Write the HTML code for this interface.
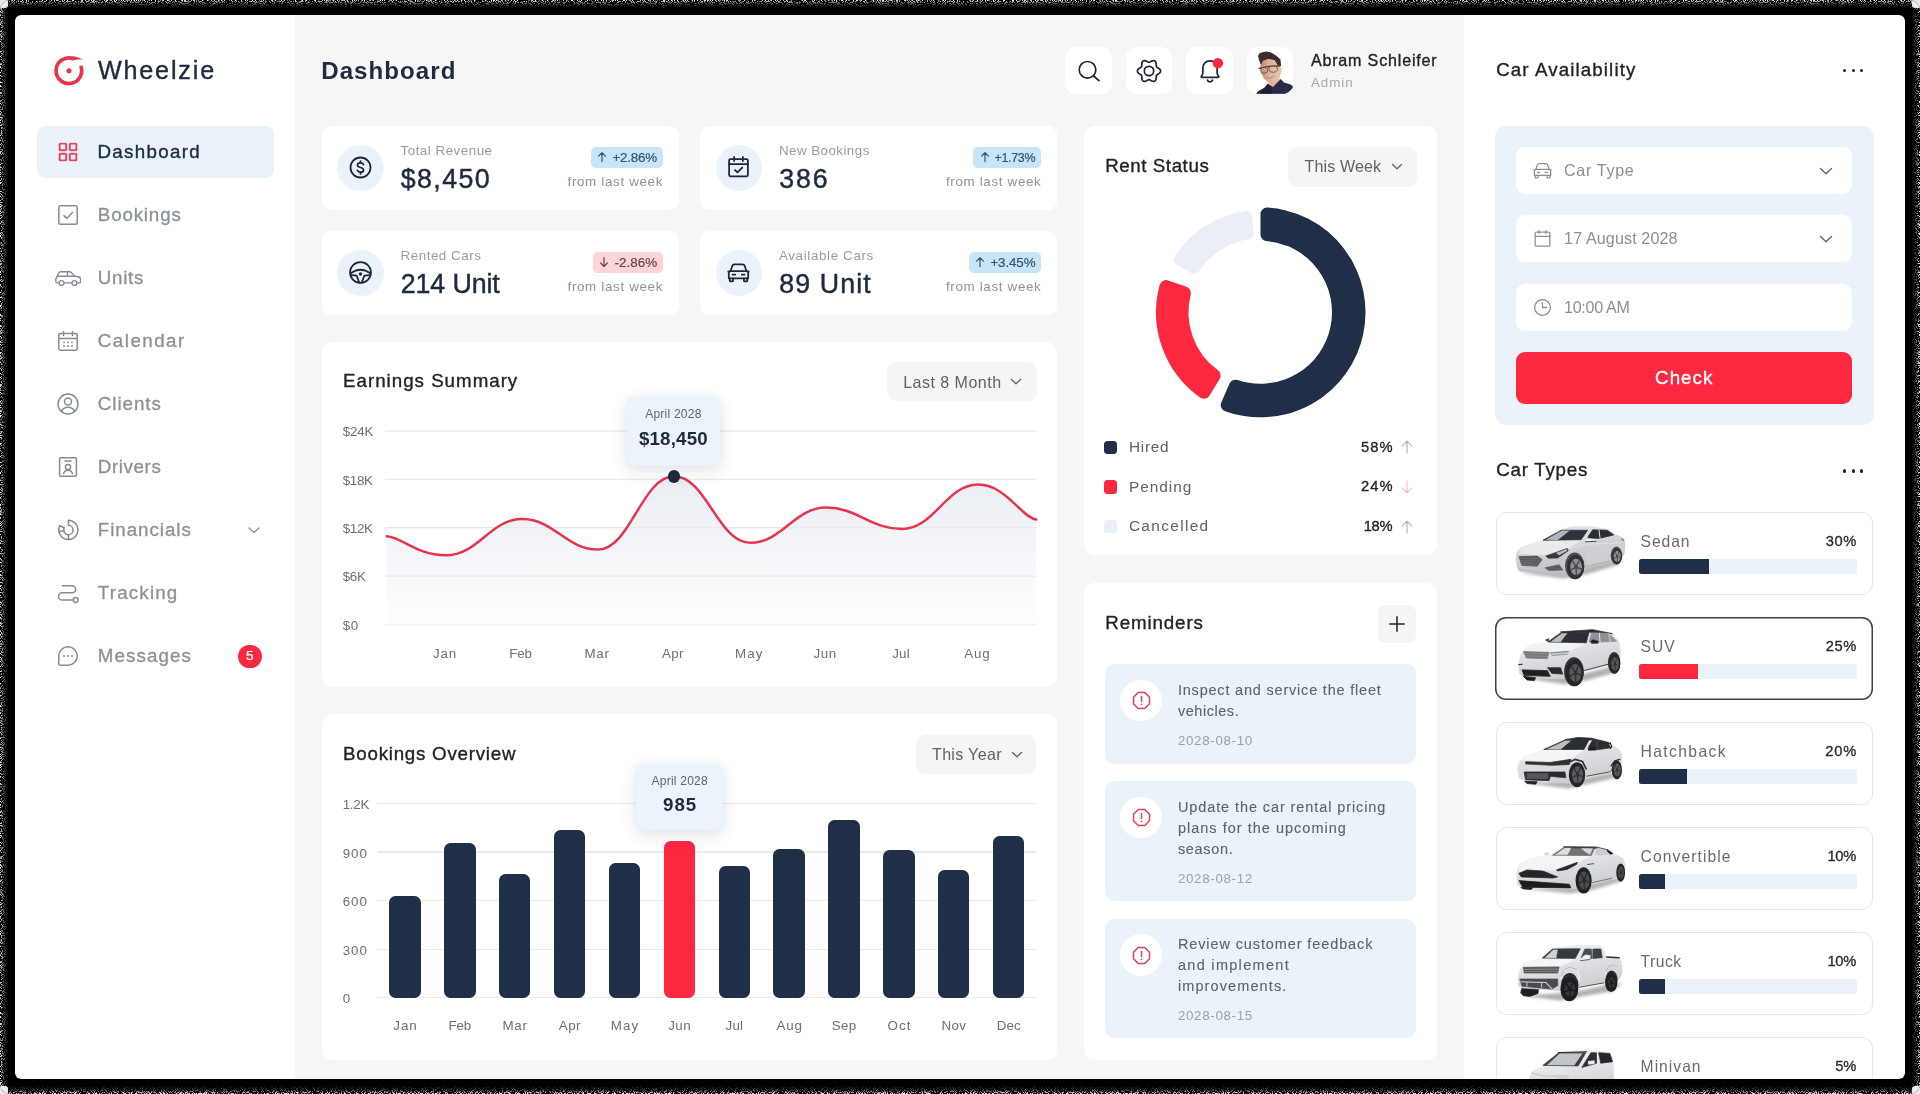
<!DOCTYPE html>
<html><head><meta charset="utf-8"><title>Wheelzie Dashboard</title>
<style>
html,body{margin:0;padding:0;}
body{width:1920px;height:1094px;overflow:hidden;background:#e9e9e9;font-family:"Liberation Sans",sans-serif;position:relative;}
#frame{position:absolute;left:0;top:0;width:1920px;height:1094px;overflow:hidden;background:#000;border-radius:10px;}
#c{position:absolute;left:0;top:0;width:1920px;height:1094px;clip-path:inset(15px 15px 15px 15px round 6px);will-change:transform;}
.b{position:absolute;display:block;}
.t{position:absolute;white-space:nowrap;display:block;}
</style></head><body>
<div id="frame">
<div id="c">
<div class="b" style="left:15.00px;top:15.00px;width:280.00px;height:1064.00px;background:#ffffff;border-radius:5px 0 0 5px;"></div>
<div class="b" style="left:295.00px;top:15.00px;width:1168.50px;height:1064.00px;background:#f6f6f6;"></div>
<div class="b" style="left:1463.50px;top:15.00px;width:441.50px;height:1064.00px;background:#ffffff;border-radius:0 5px 5px 0;"></div>
<svg class="b" style="left:52.00px;top:54.00px;" width="34" height="34" viewBox="0 0 34 34" fill="none"><path d="M28.72 11.9A12.8 12.8 0 1 1 20.8 4.53" stroke="#e8334c" stroke-width="3.600" stroke-linecap="butt"/>
<path d="M19.2 2.150c4.500 0 8.800 1.500 11.700 3.700c-3.500-.650-7.200-.500-10.400.900z" fill="#e8334c"/>
<circle cx="17.000" cy="16.700" r="2.550" fill="#e8334c"/></svg>
<span class="t" style="left:97.90px;top:58.28px;font-size:25.18px;line-height:25.18px;letter-spacing:1.819px;color:#1e2b3f;-webkit-text-stroke:0.4px #1e2b3f;">Wheelzie</span>
<div class="b" style="left:37.00px;top:126.00px;width:237.00px;height:51.50px;background:#ebf3fa;border-radius:8px;"></div>
<span class="t" style="left:97.50px;top:142.88px;font-size:18.74px;line-height:18.74px;letter-spacing:1.326px;color:#1e2b3f;-webkit-text-stroke:0.4px #1e2b3f;">Dashboard</span>
<span class="t" style="left:97.80px;top:205.88px;font-size:18.74px;line-height:18.74px;letter-spacing:0.842px;color:#8b9198;-webkit-text-stroke:0.3px #8b9198;">Bookings</span>
<span class="t" style="left:97.80px;top:268.88px;font-size:18.74px;line-height:18.74px;letter-spacing:0.700px;color:#8b9198;-webkit-text-stroke:0.3px #8b9198;">Units</span>
<span class="t" style="left:97.80px;top:331.88px;font-size:18.74px;line-height:18.74px;letter-spacing:1.491px;color:#8b9198;-webkit-text-stroke:0.3px #8b9198;">Calendar</span>
<span class="t" style="left:97.80px;top:394.88px;font-size:18.74px;line-height:18.74px;letter-spacing:0.952px;color:#8b9198;-webkit-text-stroke:0.3px #8b9198;">Clients</span>
<span class="t" style="left:97.80px;top:457.88px;font-size:18.74px;line-height:18.74px;letter-spacing:0.609px;color:#8b9198;-webkit-text-stroke:0.3px #8b9198;">Drivers</span>
<span class="t" style="left:97.80px;top:520.88px;font-size:18.74px;line-height:18.74px;letter-spacing:0.958px;color:#8b9198;-webkit-text-stroke:0.3px #8b9198;">Financials</span>
<span class="t" style="left:97.80px;top:583.88px;font-size:18.74px;line-height:18.74px;letter-spacing:1.190px;color:#8b9198;-webkit-text-stroke:0.3px #8b9198;">Tracking</span>
<span class="t" style="left:97.80px;top:646.88px;font-size:18.74px;line-height:18.74px;letter-spacing:1.083px;color:#8b9198;-webkit-text-stroke:0.3px #8b9198;">Messages</span>
<svg class="b" style="left:56.00px;top:140.40px;" width="24" height="24" viewBox="0 0 24 24" fill="none"><g stroke="#e8415a" stroke-width="1.9" stroke-linecap="round" stroke-linejoin="round"><rect x="3.6" y="3.6" width="6.6" height="6.6" rx="1"/><rect x="13.8" y="3.6" width="6.6" height="6.6" rx="1"/><rect x="3.6" y="13.8" width="6.6" height="6.6" rx="1"/><rect x="13.8" y="13.8" width="6.6" height="6.6" rx="1"/></g></svg>
<svg class="b" style="left:56.00px;top:203.40px;" width="24" height="24" viewBox="0 0 24 24" fill="none"><g stroke="#868c94" stroke-width="1.5" stroke-linecap="round" stroke-linejoin="round"><rect x="2.8" y="2.8" width="18.4" height="18.4" rx="1.5"/><path d="M8 12.6l2.8 2.8L16.4 9.4"/></g></svg>
<svg class="b" style="left:55.00px;top:271.20px;" width="26.4" height="15.2" viewBox="0 0 26.4 15.2" fill="none"><g stroke="#868c94" stroke-width="1.400" stroke-linecap="round" stroke-linejoin="round"><path d="M3.900 11.900H2.300c-.8 0-1.500-.7-1.500-1.500V8.600c0-.5.100-1 .4-1.500l2.600-5.200c.3-.7 1-1.200 1.800-1.200h9c.6 0 1.200.300 1.600.700l3.700 3.800 3.300.5c1.400.2 2.400 1.400 2.400 2.800v1.900c0 .8-.7 1.500-1.500 1.500H22M9.100 11.900h7.700"/><path d="M2.400 5.200h17.500M12.400 .900v4.300"/><circle cx="6.500" cy="12.100" r="2.450"/><circle cx="19.400" cy="12.100" r="2.450"/></g></svg>
<svg class="b" style="left:56.00px;top:329.40px;" width="24" height="24" viewBox="0 0 24 24" fill="none"><g stroke="#868c94" stroke-width="1.5" stroke-linecap="round" stroke-linejoin="round"><rect x="2.8" y="4.6" width="18.4" height="16.6" rx="1.5"/><path d="M2.8 9.6h18.400M7.500 2.600v3.800M16.500 2.600v3.800"/><path d="M8 13.400h.01M12 13.400h.01M16 13.400h.01M8 17h.01M12 17h.01M16 17h.01" stroke-width="1.9"/></g></svg>
<svg class="b" style="left:56.00px;top:392.40px;" width="24" height="24" viewBox="0 0 24 24" fill="none"><g stroke="#868c94" stroke-width="1.5" stroke-linecap="round" stroke-linejoin="round"><circle cx="12" cy="12" r="10"/><circle cx="12" cy="9.600" r="3.500"/><path d="M5.400 19.400c1.200-2.700 3.600-4.100 6.600-4.100s5.400 1.400 6.600 4.100"/></g></svg>
<svg class="b" style="left:56.00px;top:455.40px;" width="24" height="24" viewBox="0 0 24 24" fill="none"><g stroke="#868c94" stroke-width="1.5" stroke-linecap="round" stroke-linejoin="round"><rect x="3.600" y="2.800" width="16.800" height="18.400" rx="1.200"/><path d="M9 6h6"/><circle cx="12" cy="12" r="2.600"/><path d="M7.600 18.600c.6-2.200 2.200-3.400 4.400-3.400s3.800 1.200 4.400 3.400"/></g></svg>
<svg class="b" style="left:56.00px;top:518.40px;" width="24" height="24" viewBox="0 0 24 24" fill="none"><g stroke="#868c94" stroke-width="1.5" stroke-linecap="round" stroke-linejoin="round"><path d="M12.400 2.300A9.600 9.600 0 0 1 12.400 21.500V16.700A4.700 4.700 0 0 0 12.400 7.300Z"/><path d="M12.400 21.500A9.600 9.600 0 0 1 3.700 7.800"/><path d="M12.400 16.700A4.700 4.700 0 0 1 8.300 9.700"/><path d="M3.700 7.800L8.300 9.700M2.900 13.600l4.900-.9"/></g></svg>
<svg class="b" style="left:56.00px;top:581.40px;" width="24" height="24" viewBox="0 0 24 24" fill="none"><g stroke="#868c94" stroke-width="1.5" stroke-linecap="round" stroke-linejoin="round"><path d="M17.200 19H6.200a3.600 3.600 0 0 1 0-7.200h10a3.500 3.500 0 0 0 0-7H6.300"/><circle cx="19.700" cy="19" r="2.400"/></g></svg>
<svg class="b" style="left:56.00px;top:644.40px;" width="24" height="24" viewBox="0 0 24 24" fill="none"><g stroke="#868c94" stroke-width="1.5" stroke-linecap="round" stroke-linejoin="round"><path d="M12 2.800a9.200 9.200 0 1 1 0 18.400H4.200a1.400 1.400 0 0 1-1.400-1.400V12A9.200 9.200 0 0 1 12 2.800z"/><path d="M8 12h.01M12 12h.01M16 12h.01" stroke-width="2"/></g></svg>
<svg class="b" style="left:247.00px;top:526.00px;" width="14" height="9" viewBox="0 0 14 9" fill="none"><path d="M2 2l5 4.600 5-4.600" stroke="#8b9198" stroke-width="1.400" stroke-linecap="round" stroke-linejoin="round"/></svg>
<div class="b" style="left:238.00px;top:644.50px;width:23.50px;height:23.50px;background:#fb2840;border-radius:12px;"></div>
<span class="t" style="left:246.02px;top:649.39px;font-size:13.60px;line-height:13.60px;letter-spacing:0.000px;color:#fff;-webkit-text-stroke:0.25px #fff;">5</span>
<span class="t" style="left:321.20px;top:58.70px;font-size:24.10px;line-height:24.10px;letter-spacing:1.042px;color:#1e2b3f;font-weight:700;">Dashboard</span>
<div class="b" style="left:1065.30px;top:47.30px;width:46.60px;height:46.80px;background:#ffffff;border-radius:11px;"></div>
<div class="b" style="left:1125.60px;top:47.30px;width:46.60px;height:46.80px;background:#ffffff;border-radius:11px;"></div>
<div class="b" style="left:1186.00px;top:47.30px;width:46.60px;height:46.80px;background:#ffffff;border-radius:11px;"></div>
<div class="b" style="left:1246.50px;top:47.30px;width:46.60px;height:46.80px;background:#ffffff;border-radius:11px;"></div>
<svg class="b" style="left:1076.60px;top:58.60px;" width="24" height="24" viewBox="0 0 24 24" fill="none"><g stroke="#1d2430" stroke-width="1.700" stroke-linecap="round"><circle cx="10.500" cy="10.800" r="8.300"/><path d="M16.600 17l5.400 4.700"/></g></svg>
<svg class="b" style="left:1136.20px;top:57.70px;" width="26" height="26" viewBox="0 0 26 26" fill="none"><g stroke="#1d2430" stroke-width="1.700" stroke-linejoin="round"><path d="M13.00 4.30 L13.34 4.27 L13.69 4.17 L14.06 4.02 L14.45 3.82 L14.87 3.59 L15.32 3.35 L15.79 3.12 L16.27 2.92 L16.78 2.77 L17.28 2.68 L17.77 2.66 L18.23 2.73 L18.67 2.88 L19.05 3.12 L19.38 3.45 L19.66 3.84 L19.87 4.29 L20.02 4.78 L20.12 5.30 L20.18 5.82 L20.20 6.34 L20.22 6.84 L20.23 7.30 L20.26 7.72 L20.33 8.11 L20.43 8.44 L20.59 8.75 L20.81 9.02 L21.09 9.27 L21.43 9.51 L21.81 9.75 L22.23 10.00 L22.66 10.28 L23.09 10.58 L23.50 10.91 L23.87 11.28 L24.17 11.68 L24.41 12.10 L24.55 12.55 L24.60 13.00 L24.55 13.45 L24.41 13.90 L24.17 14.32 L23.87 14.72 L23.50 15.09 L23.09 15.42 L22.66 15.72 L22.23 16.00 L21.81 16.25 L21.43 16.49 L21.09 16.73 L20.81 16.98 L20.59 17.25 L20.43 17.56 L20.33 17.89 L20.26 18.28 L20.23 18.70 L20.22 19.16 L20.20 19.66 L20.18 20.18 L20.12 20.70 L20.02 21.22 L19.87 21.71 L19.66 22.16 L19.38 22.55 L19.05 22.88 L18.67 23.12 L18.23 23.27 L17.77 23.34 L17.28 23.32 L16.78 23.23 L16.27 23.08 L15.79 22.88 L15.32 22.65 L14.87 22.41 L14.45 22.18 L14.06 21.98 L13.69 21.83 L13.34 21.73 L13.00 21.70 L12.66 21.73 L12.31 21.83 L11.94 21.98 L11.55 22.18 L11.13 22.41 L10.68 22.65 L10.21 22.88 L9.73 23.08 L9.22 23.23 L8.72 23.32 L8.23 23.34 L7.77 23.27 L7.33 23.12 L6.95 22.88 L6.62 22.55 L6.34 22.16 L6.13 21.71 L5.98 21.22 L5.88 20.70 L5.82 20.18 L5.80 19.66 L5.78 19.16 L5.77 18.70 L5.74 18.28 L5.67 17.89 L5.57 17.56 L5.41 17.25 L5.19 16.98 L4.91 16.73 L4.57 16.49 L4.19 16.25 L3.77 16.00 L3.34 15.72 L2.91 15.42 L2.50 15.09 L2.13 14.72 L1.83 14.32 L1.59 13.90 L1.45 13.45 L1.40 13.00 L1.45 12.55 L1.59 12.10 L1.83 11.68 L2.13 11.28 L2.50 10.91 L2.91 10.58 L3.34 10.28 L3.77 10.00 L4.19 9.75 L4.57 9.51 L4.91 9.27 L5.19 9.02 L5.41 8.75 L5.57 8.44 L5.67 8.11 L5.74 7.72 L5.77 7.30 L5.78 6.84 L5.80 6.34 L5.82 5.82 L5.88 5.30 L5.98 4.78 L6.13 4.29 L6.34 3.84 L6.62 3.45 L6.95 3.12 L7.33 2.88 L7.77 2.73 L8.23 2.66 L8.72 2.68 L9.22 2.77 L9.73 2.92 L10.21 3.12 L10.68 3.35 L11.13 3.59 L11.55 3.82 L11.94 4.02 L12.31 4.17 L12.66 4.27Z"/><circle cx="13" cy="13" r="4.700"/></g></svg>
<svg class="b" style="left:1196.60px;top:56.60px;overflow:visible;" width="26" height="28.2" viewBox="0 0 24 26" fill="none"><g stroke="#1d2430" stroke-width="1.600" stroke-linecap="round" stroke-linejoin="round"><path d="M12 3.500c-4 0-6.600 3-6.600 6.800v4.200c0 1.200-.5 2.300-1.300 3.100-.5.500-.2 1.300.5 1.300h14.800c.7 0 1-.8.500-1.300-.8-.8-1.300-1.900-1.300-3.100v-4.200c0-3.800-2.600-6.800-6.600-6.800z"/><path d="M9.700 21.300c.4 1.100 1.200 1.700 2.300 1.700s1.900-.6 2.300-1.700"/></g><circle cx="19.300" cy="5.700" r="4.800" fill="#fb2840"/></svg>
<svg class="b" style="left:1246.50px;top:47.30px;" width="46.6" height="46.8" viewBox="0 0 46.6 46.8" fill="none"><defs><clipPath id="avc"><rect width="46.6" height="46.8" rx="11"/></clipPath><linearGradient id="fg" x1="0" y1="0" x2="1" y2="0"><stop offset="0" stop-color="#b98672"/><stop offset=".35" stop-color="#dcae97"/><stop offset="1" stop-color="#e9c4ae"/></linearGradient></defs><g clip-path="url(#avc)"><path d="M23.8 35.5 L33.4 32.3 L34.4 34.4 L26.0 40.8 L20.7 37.6Z" fill="#dcb39c" stroke="#dcb39c" stroke-width="1.2" stroke-linejoin="round" /><path d="M9.5 47.2 L11.7 44.5 L17.5 41.3 L20.7 37.6 L26.0 40.8 L33.7 32.9 L36.6 36.0 L43.5 38.2 L46.6 40.8 L45.0 44.5 L40.3 47.2Z" fill="#272b45" stroke="#272b45" stroke-width="1.2" stroke-linejoin="round" /><path d="M17.5 41.3L20.7 37.6 26 40.8 24 47.2H12z" fill="#1d2033"/><path d="M14.0 16.4 L15.4 13.2 L21.7 11.1 L28.1 12.7 L31.3 18.0 L33.7 20.7 L33.9 24.9 L32.3 29.1 L31.3 33.4 L26.0 36.0 L21.7 35.0 L17.5 31.3 L15.1 26.5 L14.3 21.7Z" fill="url(#fg)" stroke="url(#fg)" stroke-width="1.2" stroke-linejoin="round" /><path d="M11.7 9.0 L13.0 6.6 L19.1 5.0 L23.8 6.1 L28.6 9.0 L32.9 12.7 L33.4 18.5 L31.3 18.0 L28.1 12.7 L21.7 11.1 L15.4 13.2 L14.0 16.4 L12.5 12.7Z" fill="#3b2b29" stroke="#3b2b29" stroke-width="1.2" stroke-linejoin="round" /><path d="M12.000 21.400L22.200 19.400 32.300 19.000" stroke="#4d3a2f" stroke-width="1.300" fill="none" stroke-linecap="round"/><ellipse cx="17.200" cy="23.200" rx="3.700" ry="3" stroke="#6a4e40" stroke-width=".8" fill="#caa08c" fill-opacity=".5" transform="rotate(-8 17.2 23.2)"/><ellipse cx="26.200" cy="22.000" rx="4.300" ry="3.300" stroke="#6a4e40" stroke-width=".8" fill="#e3b9a3" fill-opacity=".4" transform="rotate(-8 26.2 22)"/><path d="M19.500 30.500c2.400 1.300 5.200.900 7.600-1" stroke="#b47a68" stroke-width=".9" fill="none" stroke-linecap="round"/></g></svg>
<span class="t" style="left:1310.90px;top:51.90px;font-size:16.07px;line-height:16.07px;letter-spacing:0.823px;color:#232323;-webkit-text-stroke:0.35px #232323;">Abram Schleifer</span>
<span class="t" style="left:1310.90px;top:76.47px;font-size:13.39px;line-height:13.39px;letter-spacing:0.963px;color:#a6a8ab;">Admin</span>
<div class="b" style="left:321.60px;top:126.30px;width:357.00px;height:83.30px;background:#ffffff;border-radius:9px;"></div>
<div class="b" style="left:337.10px;top:144.80px;width:46.50px;height:46.50px;background:#ebf3fa;border-radius:24px;"></div>
<svg class="b" style="left:347.90px;top:155.00px;" width="25" height="25" viewBox="0 0 24 24" fill="none"><g stroke="#1d2736" stroke-width="1.700" stroke-linecap="round" stroke-linejoin="round"><circle cx="12" cy="12" r="9.600"/><path d="M14.900 9.200c-.4-1.100-1.500-1.700-2.900-1.700-1.700 0-2.900.9-2.900 2.200 0 1.300 1 1.900 2.900 2.300s2.900 1 2.900 2.300c0 1.300-1.200 2.200-2.900 2.200-1.400 0-2.500-.6-2.900-1.700M12 5.800v1.700M12 16.500v1.700"/></g></svg>
<span class="t" style="left:400.50px;top:143.57px;font-size:13.39px;line-height:13.39px;letter-spacing:0.501px;color:#979ba1;">Total Revenue</span>
<span class="t" style="left:400.80px;top:166.03px;font-size:26.78px;line-height:26.78px;letter-spacing:1.381px;color:#1e2b3f;-webkit-text-stroke:0.45px #1e2b3f;">$8,450</span>
<div class="b" style="left:590.60px;top:146.60px;width:72.00px;height:21.20px;background:#c9e4f6;border-radius:5px;"></div>
<svg class="b" style="left:597.40px;top:151.30px;" width="10" height="12.2" viewBox="0 0 10 12.2" fill="none"><g stroke="#2f5673" stroke-width="1.200" stroke-linecap="round" stroke-linejoin="round"><path d="M5 10.600V1.800M1.600 5.200L5 1.700l3.400 3.500"/></g></svg>
<span class="t" style="left:612.50px;top:151.17px;font-size:13.39px;line-height:13.39px;letter-spacing:-0.216px;color:#2f5673;-webkit-text-stroke:0.2px #2f5673;">+2.86%</span>
<span class="t" style="left:567.50px;top:175.27px;font-size:13.39px;line-height:13.39px;letter-spacing:0.669px;color:#8e9399;">from last week</span>
<div class="b" style="left:700.00px;top:126.30px;width:357.00px;height:83.30px;background:#ffffff;border-radius:9px;"></div>
<div class="b" style="left:715.50px;top:144.80px;width:46.50px;height:46.50px;background:#ebf3fa;border-radius:24px;"></div>
<svg class="b" style="left:726.30px;top:154.40px;" width="25" height="25" viewBox="0 0 24 24" fill="none"><g stroke="#1d2736" stroke-width="1.700" stroke-linecap="round" stroke-linejoin="round"><rect x="3" y="5" width="18" height="16.400" rx="1.200"/><path d="M3 9.800h18M7.800 2.800v4M16.200 2.800v4M8.600 15.400l2.400 2.300 4.600-4.700"/></g></svg>
<span class="t" style="left:778.90px;top:143.57px;font-size:13.39px;line-height:13.39px;letter-spacing:0.448px;color:#979ba1;">New Bookings</span>
<span class="t" style="left:779.20px;top:166.03px;font-size:26.78px;line-height:26.78px;letter-spacing:1.913px;color:#1e2b3f;-webkit-text-stroke:0.45px #1e2b3f;">386</span>
<div class="b" style="left:973.00px;top:146.60px;width:68.00px;height:21.20px;background:#c9e4f6;border-radius:5px;"></div>
<svg class="b" style="left:979.80px;top:151.30px;" width="10" height="12.2" viewBox="0 0 10 12.2" fill="none"><g stroke="#2f5673" stroke-width="1.200" stroke-linecap="round" stroke-linejoin="round"><path d="M5 10.600V1.800M1.600 5.200L5 1.700l3.400 3.500"/></g></svg>
<span class="t" style="left:994.53px;top:151.96px;font-size:12.45px;line-height:12.45px;letter-spacing:-0.300px;color:#2f5673;-webkit-text-stroke:0.2px #2f5673;">+1.73%</span>
<span class="t" style="left:945.90px;top:175.27px;font-size:13.39px;line-height:13.39px;letter-spacing:0.669px;color:#8e9399;">from last week</span>
<div class="b" style="left:321.60px;top:231.40px;width:357.00px;height:83.30px;background:#ffffff;border-radius:9px;"></div>
<div class="b" style="left:337.10px;top:249.90px;width:46.50px;height:46.50px;background:#ebf3fa;border-radius:24px;"></div>
<svg class="b" style="left:347.90px;top:260.10px;" width="25" height="25" viewBox="0 0 24 24" fill="none"><g stroke="#1d2736" stroke-width="1.700" stroke-linecap="round" stroke-linejoin="round"><circle cx="12" cy="12" r="10"/><path d="M2.500 12.700Q12 6 21.500 12.700"/><path d="M3.300 14.500l5 .5 2.500 6.600M20.700 14.500l-5 .5-2.500 6.600"/><circle cx="12" cy="13.400" r=".8" fill="#1d2736"/></g></svg>
<span class="t" style="left:400.50px;top:248.67px;font-size:13.39px;line-height:13.39px;letter-spacing:0.535px;color:#979ba1;">Rented Cars</span>
<span class="t" style="left:400.80px;top:271.13px;font-size:26.78px;line-height:26.78px;letter-spacing:-0.104px;color:#1e2b3f;-webkit-text-stroke:0.45px #1e2b3f;">214 Unit</span>
<div class="b" style="left:592.60px;top:251.70px;width:70.00px;height:21.20px;background:#fcd4da;border-radius:5px;"></div>
<svg class="b" style="left:599.40px;top:256.40px;" width="10" height="12.2" viewBox="0 0 10 12.2" fill="none"><g stroke="#6b4048" stroke-width="1.200" stroke-linecap="round" stroke-linejoin="round"><path d="M5 1.600v8.800M1.600 7L5 10.500 8.400 7"/></g></svg>
<span class="t" style="left:614.50px;top:256.27px;font-size:13.39px;line-height:13.39px;letter-spacing:0.056px;color:#6b4048;-webkit-text-stroke:0.2px #6b4048;">-2.86%</span>
<span class="t" style="left:567.50px;top:280.37px;font-size:13.39px;line-height:13.39px;letter-spacing:0.669px;color:#8e9399;">from last week</span>
<div class="b" style="left:700.00px;top:231.40px;width:357.00px;height:83.30px;background:#ffffff;border-radius:9px;"></div>
<div class="b" style="left:715.50px;top:249.90px;width:46.50px;height:46.50px;background:#ebf3fa;border-radius:24px;"></div>
<svg class="b" style="left:726.30px;top:259.50px;" width="25" height="25" viewBox="0 0 24 24" fill="none"><g stroke="#1d2736" stroke-width="1.700" stroke-linecap="round" stroke-linejoin="round"><path d="M2.200 11.200l2.200-.6 1.700-5c.3-.9 1.100-1.400 2-1.400h7.800c.9 0 1.700.5 2 1.400l1.700 5 2.200.6"/><path d="M4.400 10.600h15.200c.9 0 1.700.8 1.700 1.700v5.300H2.700v-5.300c0-.9.800-1.700 1.700-1.700z"/><path d="M3.600 17.600v2.200c0 .4.300.7.700.7h1.800c.4 0 .7-.3.700-.7v-2.200M17.200 17.600v2.200c0 .4.300.7.700.7h1.800c.4 0 .7-.3.700-.7v-2.200M6.200 14.100h2.600M15.200 14.100h2.600"/></g></svg>
<span class="t" style="left:778.90px;top:248.67px;font-size:13.39px;line-height:13.39px;letter-spacing:0.648px;color:#979ba1;">Available Cars</span>
<span class="t" style="left:779.20px;top:271.13px;font-size:26.78px;line-height:26.78px;letter-spacing:1.111px;color:#1e2b3f;-webkit-text-stroke:0.45px #1e2b3f;">89 Unit</span>
<div class="b" style="left:968.50px;top:251.70px;width:72.50px;height:21.20px;background:#c9e4f6;border-radius:5px;"></div>
<svg class="b" style="left:975.30px;top:256.40px;" width="10" height="12.2" viewBox="0 0 10 12.2" fill="none"><g stroke="#2f5673" stroke-width="1.200" stroke-linecap="round" stroke-linejoin="round"><path d="M5 10.600V1.800M1.600 5.200L5 1.700l3.400 3.500"/></g></svg>
<span class="t" style="left:990.40px;top:256.27px;font-size:13.39px;line-height:13.39px;letter-spacing:-0.116px;color:#2f5673;-webkit-text-stroke:0.2px #2f5673;">+3.45%</span>
<span class="t" style="left:945.90px;top:280.37px;font-size:13.39px;line-height:13.39px;letter-spacing:0.669px;color:#8e9399;">from last week</span>
<div class="b" style="left:321.60px;top:342.00px;width:735.60px;height:345.20px;background:#ffffff;border-radius:10px;"></div>
<span class="t" style="left:343.10px;top:372.23px;font-size:18.74px;line-height:18.74px;letter-spacing:0.989px;color:#232323;-webkit-text-stroke:0.35px #232323;">Earnings Summary</span>
<div class="b" style="left:886.50px;top:362.30px;width:150.20px;height:39.00px;background:#f5f5f5;border-radius:9px;"></div>
<span class="t" style="left:903.20px;top:373.60px;font-size:16.07px;line-height:16.07px;letter-spacing:0.457px;color:#5e646c;">Last 8 Month</span>
<svg class="b" style="left:1010.40px;top:378.40px;" width="12" height="8" viewBox="0 0 12 8" fill="none"><path d="M1.500 1.500l4.500 4.300 4.500-4.300" stroke="#5e646c" stroke-width="1.300" stroke-linecap="round" stroke-linejoin="round"/></svg>
<svg class="b" style="left:321.60px;top:342.00px;" width="735.6" height="345.2" viewBox="0 0 735.6 345.2" fill="none"><path d="M63.1 89.1H714.8" stroke="#e9eaec" stroke-width="1.300"/><path d="M63.1 137.4H714.8" stroke="#e9eaec" stroke-width="1.300"/><path d="M63.1 185.7H714.8" stroke="#e9eaec" stroke-width="1.300"/><path d="M63.1 234.1H714.8" stroke="#e9eaec" stroke-width="1.300"/><path d="M63.1 282.6H714.8" stroke="#e9eaec" stroke-width="1.300"/><defs><linearGradient id="eg" x1="0" y1="134.0" x2="0" y2="282.6" gradientUnits="userSpaceOnUse"><stop offset="0" stop-color="#e9edf3"/><stop offset="0.35" stop-color="#f1f3f7"/><stop offset="0.7" stop-color="#f8f9fb"/><stop offset="1" stop-color="#fefefe"/></linearGradient></defs><path d="M64.7 194.2 C80.7 195.2 94.1 213.3 124.1 213.3 C156.0 213.3 168.2 177.1 200.1 177.1 C232.0 177.1 244.2 207.6 276.1 207.6 C308.0 207.6 320.2 134.3 352.1 134.3 C384.0 134.3 396.2 200.8 428.1 200.8 C460.0 200.8 472.2 165.6 504.1 165.6 C536.0 165.6 548.2 187.0 580.1 187.0 C612.0 187.0 624.2 142.6 656.1 142.6 C684.1 142.6 699.2 175.4 714.2 177.6 L714.2 282.6 L64.7 282.6 Z" fill="url(#eg)"/><path d="M64.7 185.7H714.8" stroke="#e4e7ea" stroke-width="1.200" opacity=".8"/><path d="M64.7 234.1H714.8" stroke="#e4e7ea" stroke-width="1.200" opacity=".8"/><path d="M64.7 194.2 C80.7 195.2 94.1 213.3 124.1 213.3 C156.0 213.3 168.2 177.1 200.1 177.1 C232.0 177.1 244.2 207.6 276.1 207.6 C308.0 207.6 320.2 134.3 352.1 134.3 C384.0 134.3 396.2 200.8 428.1 200.8 C460.0 200.8 472.2 165.6 504.1 165.6 C536.0 165.6 548.2 187.0 580.1 187.0 C612.0 187.0 624.2 142.6 656.1 142.6 C684.1 142.6 699.2 175.4 714.2 177.6" stroke="#e5344c" stroke-width="2.500" stroke-linecap="round" fill="none"/></svg>
<span class="t" style="left:342.70px;top:425.27px;font-size:13.39px;line-height:13.39px;letter-spacing:-0.189px;color:#6a7079;">$24K</span>
<span class="t" style="left:342.70px;top:473.57px;font-size:13.39px;line-height:13.39px;letter-spacing:-0.300px;color:#6a7079;">$18K</span>
<span class="t" style="left:342.70px;top:521.87px;font-size:13.39px;line-height:13.39px;letter-spacing:-0.300px;color:#6a7079;">$12K</span>
<span class="t" style="left:342.70px;top:570.27px;font-size:13.39px;line-height:13.39px;letter-spacing:-0.300px;color:#6a7079;">$6K</span>
<span class="t" style="left:342.70px;top:618.77px;font-size:13.39px;line-height:13.39px;letter-spacing:0.509px;color:#6a7079;">$0</span>
<span class="t" style="left:432.95px;top:646.87px;font-size:13.39px;line-height:13.39px;letter-spacing:0.858px;color:#6a7079;">Jan</span>
<span class="t" style="left:509.30px;top:646.87px;font-size:13.39px;line-height:13.39px;letter-spacing:-0.184px;color:#6a7079;">Feb</span>
<span class="t" style="left:584.45px;top:646.87px;font-size:13.39px;line-height:13.39px;letter-spacing:0.722px;color:#6a7079;">Mar</span>
<span class="t" style="left:661.90px;top:646.87px;font-size:13.39px;line-height:13.39px;letter-spacing:0.433px;color:#6a7079;">Apr</span>
<span class="t" style="left:735.05px;top:646.87px;font-size:13.39px;line-height:13.39px;letter-spacing:1.104px;color:#6a7079;">May</span>
<span class="t" style="left:813.60px;top:646.87px;font-size:13.39px;line-height:13.39px;letter-spacing:0.458px;color:#6a7079;">Jun</span>
<span class="t" style="left:892.15px;top:646.87px;font-size:13.39px;line-height:13.39px;letter-spacing:0.193px;color:#6a7079;">Jul</span>
<span class="t" style="left:964.20px;top:646.87px;font-size:13.39px;line-height:13.39px;letter-spacing:0.840px;color:#6a7079;">Aug</span>
<div class="b" style="left:627.30px;top:396.90px;width:92.60px;height:69.00px;background:#ecf3fa;border-radius:8px;box-shadow:0 5px 18px rgba(30,50,80,.12),0 0 8px rgba(30,50,80,.05);"></div>
<span class="t" style="left:645.20px;top:408.10px;font-size:12.05px;line-height:12.05px;letter-spacing:0.216px;color:#5e6670;">April 2028</span>
<span class="t" style="left:638.90px;top:429.93px;font-size:18.74px;line-height:18.74px;letter-spacing:0.192px;color:#1e2b3f;font-weight:700;">$18,450</span>
<div class="b" style="left:667.60px;top:470.00px;width:12.80px;height:12.80px;background:#1d2a3e;border-radius:7px;"></div>
<div class="b" style="left:321.60px;top:714.40px;width:735.60px;height:345.60px;background:#ffffff;border-radius:10px;"></div>
<span class="t" style="left:343.10px;top:744.63px;font-size:18.74px;line-height:18.74px;letter-spacing:0.749px;color:#232323;-webkit-text-stroke:0.35px #232323;">Bookings Overview</span>
<div class="b" style="left:915.70px;top:735.00px;width:120.70px;height:38.90px;background:#f5f5f5;border-radius:9px;"></div>
<span class="t" style="left:932.00px;top:745.90px;font-size:16.07px;line-height:16.07px;letter-spacing:0.315px;color:#5e646c;">This Year</span>
<svg class="b" style="left:1010.60px;top:750.80px;" width="12" height="8" viewBox="0 0 12 8" fill="none"><path d="M1.500 1.500l4.500 4.300 4.500-4.300" stroke="#5e646c" stroke-width="1.300" stroke-linecap="round" stroke-linejoin="round"/></svg>
<div class="b" style="left:377.30px;top:802.85px;width:659.10px;height:1.30px;background:#e9eaec;"></div>
<div class="b" style="left:377.30px;top:851.45px;width:659.10px;height:1.30px;background:#e9eaec;"></div>
<div class="b" style="left:377.30px;top:899.95px;width:659.10px;height:1.30px;background:#e9eaec;"></div>
<div class="b" style="left:377.30px;top:948.55px;width:659.10px;height:1.30px;background:#e9eaec;"></div>
<div class="b" style="left:377.30px;top:997.05px;width:659.10px;height:1.30px;background:#e9eaec;"></div>
<span class="t" style="left:342.70px;top:798.07px;font-size:13.39px;line-height:13.39px;letter-spacing:-0.300px;color:#6a7079;">1.2K</span>
<span class="t" style="left:342.70px;top:846.67px;font-size:13.39px;line-height:13.39px;letter-spacing:0.982px;color:#6a7079;">900</span>
<span class="t" style="left:342.70px;top:895.17px;font-size:13.39px;line-height:13.39px;letter-spacing:0.982px;color:#6a7079;">600</span>
<span class="t" style="left:342.70px;top:943.77px;font-size:13.39px;line-height:13.39px;letter-spacing:0.982px;color:#6a7079;">300</span>
<span class="t" style="left:342.70px;top:992.27px;font-size:13.39px;line-height:13.39px;letter-spacing:0.000px;color:#6a7079;">0</span>
<div class="b" style="left:389.30px;top:896.20px;width:31.40px;height:102.10px;background:#1e2f47;border-radius:6.5px;"></div>
<span class="t" style="left:393.35px;top:1018.87px;font-size:13.39px;line-height:13.39px;letter-spacing:0.858px;color:#6a7079;">Jan</span>
<div class="b" style="left:444.18px;top:843.40px;width:31.40px;height:154.90px;background:#1e2f47;border-radius:6.5px;"></div>
<span class="t" style="left:448.53px;top:1018.87px;font-size:13.39px;line-height:13.39px;letter-spacing:-0.184px;color:#6a7079;">Feb</span>
<div class="b" style="left:499.06px;top:874.00px;width:31.40px;height:124.30px;background:#1e2f47;border-radius:6.5px;"></div>
<span class="t" style="left:502.51px;top:1018.87px;font-size:13.39px;line-height:13.39px;letter-spacing:0.722px;color:#6a7079;">Mar</span>
<div class="b" style="left:553.94px;top:830.20px;width:31.40px;height:168.10px;background:#1e2f47;border-radius:6.5px;"></div>
<span class="t" style="left:558.79px;top:1018.87px;font-size:13.39px;line-height:13.39px;letter-spacing:0.433px;color:#6a7079;">Apr</span>
<div class="b" style="left:608.82px;top:863.30px;width:31.40px;height:135.00px;background:#1e2f47;border-radius:6.5px;"></div>
<span class="t" style="left:610.77px;top:1018.87px;font-size:13.39px;line-height:13.39px;letter-spacing:1.104px;color:#6a7079;">May</span>
<div class="b" style="left:663.70px;top:840.80px;width:31.40px;height:157.50px;background:#fb2840;border-radius:6.5px;"></div>
<span class="t" style="left:668.15px;top:1018.87px;font-size:13.39px;line-height:13.39px;letter-spacing:0.458px;color:#6a7079;">Jun</span>
<div class="b" style="left:718.58px;top:866.10px;width:31.40px;height:132.20px;background:#1e2f47;border-radius:6.5px;"></div>
<span class="t" style="left:725.53px;top:1018.87px;font-size:13.39px;line-height:13.39px;letter-spacing:0.193px;color:#6a7079;">Jul</span>
<div class="b" style="left:773.46px;top:848.70px;width:31.40px;height:149.60px;background:#1e2f47;border-radius:6.5px;"></div>
<span class="t" style="left:776.41px;top:1018.87px;font-size:13.39px;line-height:13.39px;letter-spacing:0.840px;color:#6a7079;">Aug</span>
<div class="b" style="left:828.34px;top:819.80px;width:31.40px;height:178.50px;background:#1e2f47;border-radius:6.5px;"></div>
<span class="t" style="left:831.79px;top:1018.87px;font-size:13.39px;line-height:13.39px;letter-spacing:0.340px;color:#6a7079;">Sep</span>
<div class="b" style="left:883.22px;top:850.30px;width:31.40px;height:148.00px;background:#1e2f47;border-radius:6.5px;"></div>
<span class="t" style="left:887.42px;top:1018.87px;font-size:13.39px;line-height:13.39px;letter-spacing:1.087px;color:#6a7079;">Oct</span>
<div class="b" style="left:938.10px;top:870.10px;width:31.40px;height:128.20px;background:#1e2f47;border-radius:6.5px;"></div>
<span class="t" style="left:941.55px;top:1018.87px;font-size:13.39px;line-height:13.39px;letter-spacing:0.346px;color:#6a7079;">Nov</span>
<div class="b" style="left:992.98px;top:835.60px;width:31.40px;height:162.70px;background:#1e2f47;border-radius:6.5px;"></div>
<span class="t" style="left:996.68px;top:1018.87px;font-size:13.39px;line-height:13.39px;letter-spacing:0.096px;color:#6a7079;">Dec</span>
<div class="b" style="left:635.60px;top:763.50px;width:87.00px;height:66.00px;background:#ecf3fa;border-radius:8px;box-shadow:0 5px 18px rgba(30,50,80,.12),0 0 8px rgba(30,50,80,.05);"></div>
<span class="t" style="left:651.50px;top:774.60px;font-size:12.05px;line-height:12.05px;letter-spacing:0.216px;color:#5e6670;">April 2028</span>
<span class="t" style="left:663.00px;top:795.93px;font-size:18.74px;line-height:18.74px;letter-spacing:0.964px;color:#1e2b3f;font-weight:700;">985</span>
<div class="b" style="left:1083.80px;top:126.30px;width:353.20px;height:429.00px;background:#ffffff;border-radius:10px;"></div>
<span class="t" style="left:1105.20px;top:156.73px;font-size:18.74px;line-height:18.74px;letter-spacing:0.567px;color:#232323;-webkit-text-stroke:0.35px #232323;">Rent Status</span>
<div class="b" style="left:1288.00px;top:146.80px;width:128.50px;height:40.10px;background:#f5f5f5;border-radius:9px;"></div>
<span class="t" style="left:1304.60px;top:158.00px;font-size:16.07px;line-height:16.07px;letter-spacing:0.102px;color:#5e646c;">This Week</span>
<svg class="b" style="left:1391.00px;top:163.20px;" width="12" height="8" viewBox="0 0 12 8" fill="none"><path d="M1.500 1.500l4.500 4.300 4.500-4.300" stroke="#5e646c" stroke-width="1.300" stroke-linecap="round" stroke-linejoin="round"/></svg>
<svg class="b" style="left:1084.00px;top:190.00px;" width="353" height="240" viewBox="0 0 353 240" fill="none"><path d="M183.00 24.01 A98.50 98.50 0 1 1 143.27 215.02 L151.46 196.17 A78.00 78.00 0 1 0 182.99 44.57 Z" fill="#1e2f47" stroke="#1e2f47" stroke-width="13" stroke-linejoin="round"/><path d="M119.87 202.28 A98.00 98.00 0 0 1 81.93 96.61 L100.42 102.97 A78.50 78.50 0 0 0 130.09 185.61 Z" fill="#fb2840" stroke="#fb2840" stroke-width="13" stroke-linejoin="round"/><path d="M95.63 69.65 A96.50 96.50 0 0 1 162.13 26.88 L163.58 43.35 A80.00 80.00 0 0 0 110.02 77.80 Z" fill="#eaeff6" stroke="#eaeff6" stroke-width="12" stroke-linejoin="round"/></svg>
<div class="b" style="left:1104.20px;top:440.80px;width:13.20px;height:13.20px;background:#1e2f47;border-radius:3.5px;"></div>
<span class="t" style="left:1128.90px;top:439.07px;font-size:15.40px;line-height:15.40px;letter-spacing:0.752px;color:#5c626b;">Hired</span>
<span class="t" style="left:1360.90px;top:439.63px;font-size:14.73px;line-height:14.73px;letter-spacing:1.063px;color:#232323;-webkit-text-stroke:0.32px #232323;">58%</span>
<svg class="b" style="left:1401.40px;top:440.40px;" width="12" height="14" viewBox="0 0 12 14" fill="none"><g stroke="#a7aeae" stroke-width="1.050" stroke-linecap="round" stroke-linejoin="round"><path d="M6 13V1.400M1.300 6L6 1.200 10.700 6"/></g></svg>
<div class="b" style="left:1104.20px;top:480.40px;width:13.20px;height:13.20px;background:#fb2840;border-radius:3.5px;"></div>
<span class="t" style="left:1128.90px;top:478.67px;font-size:15.40px;line-height:15.40px;letter-spacing:0.983px;color:#5c626b;">Pending</span>
<span class="t" style="left:1360.90px;top:479.23px;font-size:14.73px;line-height:14.73px;letter-spacing:1.063px;color:#232323;-webkit-text-stroke:0.32px #232323;">24%</span>
<svg class="b" style="left:1401.40px;top:480.00px;" width="12" height="14" viewBox="0 0 12 14" fill="none"><g stroke="#f5b9c1" stroke-width="1.050" stroke-linecap="round" stroke-linejoin="round"><path d="M6 1v11.600M1.300 8L6 12.800 10.700 8"/></g></svg>
<div class="b" style="left:1104.20px;top:520.00px;width:13.20px;height:13.20px;background:#e9eff6;border-radius:3.5px;"></div>
<span class="t" style="left:1128.90px;top:518.27px;font-size:15.40px;line-height:15.40px;letter-spacing:1.354px;color:#5c626b;">Cancelled</span>
<span class="t" style="left:1363.63px;top:518.83px;font-size:14.73px;line-height:14.73px;letter-spacing:-0.300px;color:#232323;-webkit-text-stroke:0.32px #232323;">18%</span>
<svg class="b" style="left:1401.40px;top:519.60px;" width="12" height="14" viewBox="0 0 12 14" fill="none"><g stroke="#a7aeae" stroke-width="1.050" stroke-linecap="round" stroke-linejoin="round"><path d="M6 13V1.400M1.300 6L6 1.200 10.700 6"/></g></svg>
<div class="b" style="left:1083.80px;top:582.50px;width:353.20px;height:477.50px;background:#ffffff;border-radius:10px;"></div>
<span class="t" style="left:1105.30px;top:613.73px;font-size:18.74px;line-height:18.74px;letter-spacing:0.873px;color:#232323;-webkit-text-stroke:0.35px #232323;">Reminders</span>
<div class="b" style="left:1377.70px;top:604.50px;width:38.30px;height:38.30px;background:#f5f5f5;border-radius:8px;"></div>
<svg class="b" style="left:1389.00px;top:615.60px;" width="16" height="16" viewBox="0 0 16 16" fill="none"><path d="M8 .800v14.400M.800 8h14.400" stroke="#232323" stroke-width="1.500" stroke-linecap="round"/></svg>
<div class="b" style="left:1104.60px;top:664.40px;width:311.40px;height:99.40px;background:#ebf3fa;border-radius:9px;"></div>
<div class="b" style="left:1120.40px;top:680.20px;width:41.20px;height:41.20px;background:#ffffff;border-radius:21px;"></div>
<svg class="b" style="left:1131.50px;top:691.30px;" width="19" height="19" viewBox="0 0 19 19" fill="none"><g stroke="#e0425c" stroke-width="1.500" stroke-linecap="round" stroke-linejoin="round"><path d="M6.200 1.500h6.600l4.700 4.700v6.600l-4.700 4.700H6.200l-4.700-4.700V6.200z"/><path d="M9.500 5.600v4.800"/><path d="M9.500 13.300h.01" stroke-width="1.800"/></g></svg>
<span class="t" style="left:1177.90px;top:683.26px;font-size:14.46px;line-height:14.46px;letter-spacing:0.820px;color:#5d646d;-webkit-text-stroke:0.12px #5d646d;">Inspect and service the fleet</span>
<span class="t" style="left:1177.90px;top:704.26px;font-size:14.46px;line-height:14.46px;letter-spacing:0.568px;color:#5d646d;-webkit-text-stroke:0.12px #5d646d;">vehicles.</span>
<span class="t" style="left:1177.90px;top:734.27px;font-size:13.39px;line-height:13.39px;letter-spacing:0.658px;color:#9aa0a6;">2028-08-10</span>
<div class="b" style="left:1104.60px;top:781.00px;width:311.40px;height:119.80px;background:#ebf3fa;border-radius:9px;"></div>
<div class="b" style="left:1120.40px;top:796.80px;width:41.20px;height:41.20px;background:#ffffff;border-radius:21px;"></div>
<svg class="b" style="left:1131.50px;top:807.90px;" width="19" height="19" viewBox="0 0 19 19" fill="none"><g stroke="#e0425c" stroke-width="1.500" stroke-linecap="round" stroke-linejoin="round"><path d="M6.200 1.500h6.600l4.700 4.700v6.600l-4.700 4.700H6.200l-4.700-4.700V6.200z"/><path d="M9.500 5.600v4.800"/><path d="M9.500 13.300h.01" stroke-width="1.800"/></g></svg>
<span class="t" style="left:1177.90px;top:799.86px;font-size:14.46px;line-height:14.46px;letter-spacing:0.924px;color:#5d646d;-webkit-text-stroke:0.12px #5d646d;">Update the car rental pricing</span>
<span class="t" style="left:1177.90px;top:820.86px;font-size:14.46px;line-height:14.46px;letter-spacing:1.034px;color:#5d646d;-webkit-text-stroke:0.12px #5d646d;">plans for the upcoming</span>
<span class="t" style="left:1177.90px;top:841.86px;font-size:14.46px;line-height:14.46px;letter-spacing:0.727px;color:#5d646d;-webkit-text-stroke:0.12px #5d646d;">season.</span>
<span class="t" style="left:1177.90px;top:871.87px;font-size:13.39px;line-height:13.39px;letter-spacing:0.658px;color:#9aa0a6;">2028-08-12</span>
<div class="b" style="left:1104.60px;top:918.60px;width:311.40px;height:119.80px;background:#ebf3fa;border-radius:9px;"></div>
<div class="b" style="left:1120.40px;top:934.40px;width:41.20px;height:41.20px;background:#ffffff;border-radius:21px;"></div>
<svg class="b" style="left:1131.50px;top:945.50px;" width="19" height="19" viewBox="0 0 19 19" fill="none"><g stroke="#e0425c" stroke-width="1.500" stroke-linecap="round" stroke-linejoin="round"><path d="M6.200 1.500h6.600l4.700 4.700v6.600l-4.700 4.700H6.200l-4.700-4.700V6.200z"/><path d="M9.500 5.600v4.800"/><path d="M9.500 13.300h.01" stroke-width="1.800"/></g></svg>
<span class="t" style="left:1177.90px;top:937.46px;font-size:14.46px;line-height:14.46px;letter-spacing:0.914px;color:#5d646d;-webkit-text-stroke:0.12px #5d646d;">Review customer feedback</span>
<span class="t" style="left:1177.90px;top:958.46px;font-size:14.46px;line-height:14.46px;letter-spacing:1.330px;color:#5d646d;-webkit-text-stroke:0.12px #5d646d;">and implement</span>
<span class="t" style="left:1177.90px;top:979.46px;font-size:14.46px;line-height:14.46px;letter-spacing:1.132px;color:#5d646d;-webkit-text-stroke:0.12px #5d646d;">improvements.</span>
<span class="t" style="left:1177.90px;top:1009.47px;font-size:13.39px;line-height:13.39px;letter-spacing:0.658px;color:#9aa0a6;">2028-08-15</span>
<span class="t" style="left:1496.20px;top:61.43px;font-size:18.74px;line-height:18.74px;letter-spacing:1.108px;color:#232323;-webkit-text-stroke:0.35px #232323;">Car Availability</span>
<div class="b" style="left:1843.10px;top:69.30px;width:3.20px;height:3.20px;background:#232323;border-radius:2px;"></div>
<div class="b" style="left:1851.60px;top:69.30px;width:3.20px;height:3.20px;background:#232323;border-radius:2px;"></div>
<div class="b" style="left:1860.10px;top:69.30px;width:3.20px;height:3.20px;background:#232323;border-radius:2px;"></div>
<div class="b" style="left:1495.20px;top:126.10px;width:378.40px;height:298.70px;background:#ebf3fa;border-radius:11px;"></div>
<div class="b" style="left:1516.00px;top:147.00px;width:336.00px;height:47.00px;background:#ffffff;border-radius:9px;"></div>
<span class="t" style="left:1564.10px;top:161.90px;font-size:16.07px;line-height:16.07px;letter-spacing:0.673px;color:#8a8f96;">Car Type</span>
<svg class="b" style="left:1819.00px;top:167.00px;" width="14" height="9" viewBox="0 0 14 9" fill="none"><path d="M1.500 1.500l5.500 5.200 5.500-5.200" stroke="#5e646c" stroke-width="1.400" stroke-linecap="round" stroke-linejoin="round"/></svg>
<svg class="b" style="left:1531.80px;top:159.90px;" width="21" height="21" viewBox="0 0 24 24" fill="none"><g stroke="#8b8f95" stroke-width="1.450" stroke-linecap="round" stroke-linejoin="round"><path d="M2.200 11.200l2.200-.6 1.700-5c.3-.9 1.100-1.400 2-1.400h7.800c.9 0 1.700.5 2 1.400l1.700 5 2.200.6"/><path d="M4.400 10.600h15.200c.9 0 1.700.8 1.700 1.700v5.300H2.700v-5.300c0-.9.800-1.700 1.700-1.700z"/><path d="M3.600 17.600v2.200c0 .4.300.7.700.7h1.800c.4 0 .7-.3.700-.7v-2.200M17.200 17.600v2.200c0 .4.300.7.700.7h1.800c.4 0 .7-.3.700-.7v-2.200M6.200 14.100h2.600M15.200 14.100h2.600"/></g></svg>
<div class="b" style="left:1516.00px;top:215.30px;width:336.00px;height:47.00px;background:#ffffff;border-radius:9px;"></div>
<span class="t" style="left:1564.10px;top:230.20px;font-size:16.07px;line-height:16.07px;letter-spacing:0.134px;color:#8a8f96;">17 August 2028</span>
<svg class="b" style="left:1819.00px;top:235.30px;" width="14" height="9" viewBox="0 0 14 9" fill="none"><path d="M1.500 1.500l5.500 5.200 5.500-5.200" stroke="#5e646c" stroke-width="1.400" stroke-linecap="round" stroke-linejoin="round"/></svg>
<svg class="b" style="left:1531.80px;top:228.20px;" width="21" height="21" viewBox="0 0 24 24" fill="none"><g stroke="#8b8f95" stroke-width="1.450" stroke-linecap="round" stroke-linejoin="round"><rect x="3.600" y="4.800" width="16.800" height="16" rx="1.400"/><path d="M3.600 9.600h16.800M8 2.600v3.800M16 2.600v3.800"/></g></svg>
<div class="b" style="left:1516.00px;top:283.60px;width:336.00px;height:47.00px;background:#ffffff;border-radius:9px;"></div>
<span class="t" style="left:1564.10px;top:298.50px;font-size:16.07px;line-height:16.07px;letter-spacing:-0.300px;color:#8a8f96;">10:00 AM</span>
<svg class="b" style="left:1531.80px;top:296.50px;" width="21" height="21" viewBox="0 0 24 24" fill="none"><g stroke="#8b8f95" stroke-width="1.450" stroke-linecap="round" stroke-linejoin="round"><circle cx="12" cy="12" r="9"/><path d="M12 6.800V12h4.600"/></g></svg>
<div class="b" style="left:1516.30px;top:351.60px;width:335.70px;height:52.30px;background:#fb2840;border-radius:9px;"></div>
<span class="t" style="left:1655.10px;top:368.73px;font-size:18.74px;line-height:18.74px;letter-spacing:1.019px;color:#ffffff;-webkit-text-stroke:0.35px #fff;">Check</span>
<span class="t" style="left:1496.20px;top:461.43px;font-size:18.74px;line-height:18.74px;letter-spacing:0.766px;color:#232323;-webkit-text-stroke:0.35px #232323;">Car Types</span>
<div class="b" style="left:1843.10px;top:469.40px;width:3.20px;height:3.20px;background:#232323;border-radius:2px;"></div>
<div class="b" style="left:1851.60px;top:469.40px;width:3.20px;height:3.20px;background:#232323;border-radius:2px;"></div>
<div class="b" style="left:1860.10px;top:469.40px;width:3.20px;height:3.20px;background:#232323;border-radius:2px;"></div>
<div class="b" style="left:1495.50px;top:512.20px;width:377.60px;height:82.60px;background:#ffffff;border-radius:11px;border:1px solid #e4e7ea;box-sizing:border-box;"></div>
<span class="t" style="left:1640.60px;top:533.64px;font-size:15.66px;line-height:15.66px;letter-spacing:0.927px;color:#666b73;">Sedan</span>
<span class="t" style="left:1825.70px;top:534.43px;font-size:14.73px;line-height:14.73px;letter-spacing:0.563px;color:#2a2a2a;-webkit-text-stroke:0.32px #2a2a2a;">30%</span>
<div class="b" style="left:1639.40px;top:559.20px;width:217.40px;height:15.30px;background:#ebf3fa;border-radius:2.5px;"></div>
<div class="b" style="left:1639.40px;top:559.20px;width:69.22px;height:15.30px;background:#1e2f47;border-radius:2.500px 0 0 2.500px;"></div>
<svg class="b" style="left:1505px;top:515.00px" width="135" height="80" viewBox="0 0 1846 1094" fill="none"><defs><filter id="cb" x="-5%" y="-5%" width="110%" height="110%"><feGaussianBlur stdDeviation="5"/></filter><filter id="cs" x="-20%" y="-100%" width="140%" height="300%"><feGaussianBlur stdDeviation="22"/></filter><linearGradient id="bg0" x1="0.2" y1="0" x2="0.6" y2="1"><stop offset="0" stop-color="#e9eaec"/><stop offset="1" stop-color="#b7babf"/></linearGradient><linearGradient id="wg0" x1="0" y1="0" x2="1" y2="0.25"><stop offset="0" stop-color="#c9cdd3"/><stop offset="1" stop-color="#3a3e46"/></linearGradient></defs><path d="M190 790L800 870 1120 810 1520 690 1620 610 1400 640 900 760Z" fill="#b4b4b4" filter="url(#cs)"/><g filter="url(#cb)"><path d="M165 700 L150 600 L160 510 L230 440 L500 352 L760 205 L900 160 L1200 160 L1400 200 L1490 260 L1620 315 L1642 420 L1630 520 L1590 610 L1440 645 L1100 725 L840 830 L500 805 L200 770Z" fill="url(#bg0)" stroke="url(#bg0)" stroke-width="10" stroke-linejoin="round" opacity="1"/><path d="M230 445 L500 356 L1040 346 L870 450 L560 548 L190 525Z" fill="#eceded" stroke="#eceded" stroke-width="10" stroke-linejoin="round" opacity="0.9"/><path d="M1100 360 L1620 330 L1635 500 L1450 620 L1110 700Z" fill="#cfd1d6" stroke="#cfd1d6" stroke-width="10" stroke-linejoin="round" opacity="0.8"/><path d="M520 345 L770 208 L1130 208 L1040 338Z" fill="#2f333b" stroke="#2f333b" stroke-width="10" stroke-linejoin="round" opacity="1"/><path d="M560 338 L775 215 L880 215 L720 342Z" fill="#b9bec6" stroke="#b9bec6" stroke-width="4" stroke-linejoin="round" opacity="0.95"/><path d="M1140 292 L1198 203 L1400 208 L1488 272 L1300 318 L1135 328Z" fill="#2a2d33" stroke="#2a2d33" stroke-width="10" stroke-linejoin="round" opacity="1"/><path d="M1285 205 L1300 318" fill="none" stroke="#d9dadd" stroke-width="14" stroke-linecap="round" stroke-linejoin="round" opacity="1"/><path d="M1100 352 L1135 318 L1250 330 L1240 352 L1130 366Z" fill="#f3f4f5" stroke="#f3f4f5" stroke-width="4" stroke-linejoin="round" opacity="1"/><path d="M1100 366 L1245 358" fill="none" stroke="#2f3237" stroke-width="12" stroke-linecap="round" stroke-linejoin="round" opacity="1"/><path d="M1110 700 L1440 630" fill="none" stroke="#a9acb1" stroke-width="12" stroke-linecap="round" stroke-linejoin="round" opacity="1"/><path d="M870 455 L1100 400 L1600 380" fill="none" stroke="#f4f5f6" stroke-width="8" stroke-linecap="round" stroke-linejoin="round" opacity="0.8"/><path d="M190 568 L440 562 L508 610 L440 700 L232 690Z" fill="#55585d" stroke="#55585d" stroke-width="10" stroke-linejoin="round" opacity="1"/><path d="M215 595 L470 598" fill="none" stroke="#9a9da2" stroke-width="5" stroke-linecap="round" stroke-linejoin="round" opacity="0.8"/><path d="M215 625 L470 628" fill="none" stroke="#9a9da2" stroke-width="5" stroke-linecap="round" stroke-linejoin="round" opacity="0.8"/><path d="M215 655 L470 658" fill="none" stroke="#9a9da2" stroke-width="5" stroke-linecap="round" stroke-linejoin="round" opacity="0.8"/><path d="M215 682 L470 685" fill="none" stroke="#9a9da2" stroke-width="5" stroke-linecap="round" stroke-linejoin="round" opacity="0.8"/><path d="M558 562 L850 458 L865 490 L720 588 L592 590Z" fill="#34373d" stroke="#34373d" stroke-width="10" stroke-linejoin="round" opacity="1"/><path d="M700 520 L840 468 L850 488 L740 550Z" fill="#c8cbd0" stroke="#c8cbd0" stroke-width="3" stroke-linejoin="round" opacity="0.9"/><path d="M545 722 L740 682 L790 752 L600 760Z" fill="#5a5d62" stroke="#5a5d62" stroke-width="10" stroke-linejoin="round" opacity="1"/><path d="M180 740 L500 790 L830 800" fill="none" stroke="#b4b6ba" stroke-width="10" stroke-linecap="round" stroke-linejoin="round" opacity="1"/><ellipse cx="953.2" cy="695.5" rx="132.16" ry="181.5" fill="#4a4c50"/><ellipse cx="965" cy="712" rx="118" ry="165" fill="#303235"/><ellipse cx="972.08" cy="712" rx="80.24" ry="112.2" fill="#8d9095"/><path d="M972.08 712 L1043.39 738.716" stroke="#45474b" stroke-width="18.88" stroke-linecap="round"/><path d="M972.08 712 L975.943 815.083" stroke="#45474b" stroke-width="18.88" stroke-linecap="round"/><path d="M972.08 712 L903.162 748.992" stroke="#45474b" stroke-width="18.88" stroke-linecap="round"/><path d="M972.08 712 L925.623 631.78" stroke="#45474b" stroke-width="18.88" stroke-linecap="round"/><path d="M972.08 712 L1012.29 625.429" stroke="#45474b" stroke-width="18.88" stroke-linecap="round"/><ellipse cx="972.08" cy="712" rx="23.6" ry="33" fill="#45474b"/><ellipse cx="1523" cy="553.8" rx="78.4" ry="123.2" fill="#4a4c50"/><ellipse cx="1530" cy="565" rx="70" ry="112" fill="#303235"/><ellipse cx="1534.2" cy="565" rx="47.6" ry="76.16" fill="#8d9095"/><path d="M1534.2 565 L1576.5 583.135" stroke="#45474b" stroke-width="11.2" stroke-linecap="round"/><path d="M1534.2 565 L1536.49 634.971" stroke="#45474b" stroke-width="11.2" stroke-linecap="round"/><path d="M1534.2 565 L1493.32 590.11" stroke="#45474b" stroke-width="11.2" stroke-linecap="round"/><path d="M1534.2 565 L1506.64 510.548" stroke="#45474b" stroke-width="11.2" stroke-linecap="round"/><path d="M1534.2 565 L1558.05 506.237" stroke="#45474b" stroke-width="11.2" stroke-linecap="round"/><ellipse cx="1534.2" cy="565" rx="14" ry="22.4" fill="#45474b"/><path d="M1590 330 L1625 345" fill="none" stroke="#a05058" stroke-width="14" stroke-linecap="round" stroke-linejoin="round" opacity="1"/></g></svg>
<div class="b" style="left:1495.10px;top:616.80px;width:378.20px;height:83.40px;background:#ffffff;border-radius:11px;box-shadow:inset 0 0 0 1.500px #3b414d;"></div>
<span class="t" style="left:1640.60px;top:638.64px;font-size:15.66px;line-height:15.66px;letter-spacing:0.997px;color:#666b73;">SUV</span>
<span class="t" style="left:1825.70px;top:639.43px;font-size:14.73px;line-height:14.73px;letter-spacing:0.563px;color:#2a2a2a;-webkit-text-stroke:0.32px #2a2a2a;">25%</span>
<div class="b" style="left:1639.40px;top:664.20px;width:217.40px;height:15.30px;background:#ebf3fa;border-radius:2.5px;"></div>
<div class="b" style="left:1639.40px;top:664.20px;width:58.35px;height:15.30px;background:#fb2840;border-radius:2.500px 0 0 2.500px;"></div>
<svg class="b" style="left:1505px;top:620.00px" width="135" height="80" viewBox="0 0 1846 1094" fill="none"><defs><filter id="cb" x="-5%" y="-5%" width="110%" height="110%"><feGaussianBlur stdDeviation="5"/></filter><filter id="cs" x="-20%" y="-100%" width="140%" height="300%"><feGaussianBlur stdDeviation="22"/></filter><linearGradient id="bg1" x1="0.2" y1="0" x2="0.6" y2="1"><stop offset="0" stop-color="#f1f2f3"/><stop offset="1" stop-color="#c9ccd1"/></linearGradient><linearGradient id="wg1" x1="0" y1="0" x2="1" y2="0.25"><stop offset="0" stop-color="#c9cdd3"/><stop offset="1" stop-color="#3a3e46"/></linearGradient></defs><path d="M230 790L820 880 1100 830 1500 720 1580 640 1400 650 900 780Z" fill="#b0b0b0" filter="url(#cs)"/><g filter="url(#cb)"><path d="M200 740 L185 600 L215 480 L245 420 L335 350 L560 308 L752 160 L1200 130 L1470 185 L1560 300 L1577 420 L1570 570 L1440 610 L1080 695 L840 795 L600 803 L260 772Z" fill="url(#bg1)" stroke="url(#bg1)" stroke-width="10" stroke-linejoin="round" opacity="1"/><path d="M245 422 L335 352 L560 312 L1110 322 L900 410 L600 440 L250 430Z" fill="#f3f4f5" stroke="#f3f4f5" stroke-width="10" stroke-linejoin="round" opacity="0.95"/><path d="M760 162 L1200 132 L1470 187 L1420 182 L1150 167 L770 172Z" fill="#2d2f33" stroke="#2d2f33" stroke-width="10" stroke-linejoin="round" opacity="1"/><path d="M588 300 L770 172 L1150 167 L1110 312Z" fill="#2b2e34" stroke="#2b2e34" stroke-width="10" stroke-linejoin="round" opacity="1"/><path d="M625 298 L780 182 L850 182 L760 300Z" fill="#c3c7cd" stroke="#c3c7cd" stroke-width="4" stroke-linejoin="round" opacity="0.95"/><path d="M1150 302 L1182 178 L1420 183 L1528 290 L1300 302Z" fill="#8d9197" stroke="#8d9197" stroke-width="10" stroke-linejoin="round" opacity="1"/><path d="M1290 182 L1300 300" fill="none" stroke="#e4e5e7" stroke-width="14" stroke-linecap="round" stroke-linejoin="round" opacity="1"/><path d="M1420 186 L1440 292" fill="none" stroke="#d9dadd" stroke-width="12" stroke-linecap="round" stroke-linejoin="round" opacity="1"/><path d="M1170 292 L1202 266 L1280 290 L1270 320 L1182 320Z" fill="#222428" stroke="#222428" stroke-width="4" stroke-linejoin="round" opacity="1"/><path d="M548 272 L600 252 L592 298Z" fill="#2a2c30" stroke="#2a2c30" stroke-width="4" stroke-linejoin="round" opacity="1"/><path d="M252 432 L600 442 L580 528 L292 520Z" fill="#74777c" stroke="#74777c" stroke-width="10" stroke-linejoin="round" opacity="1"/><path d="M270 455 L590 465" fill="none" stroke="#a6a9ad" stroke-width="6" stroke-linecap="round" stroke-linejoin="round" opacity="1"/><path d="M282 490 L585 500" fill="none" stroke="#a6a9ad" stroke-width="6" stroke-linecap="round" stroke-linejoin="round" opacity="1"/><path d="M612 442 L870 422 L850 470 L640 490Z" fill="#c4c7cb" stroke="#c4c7cb" stroke-width="4" stroke-linejoin="round" opacity="1"/><path d="M615 452 L868 430" fill="none" stroke="#55585d" stroke-width="8" stroke-linecap="round" stroke-linejoin="round" opacity="1"/><path d="M640 488 L850 468" fill="none" stroke="#6b6e73" stroke-width="7" stroke-linecap="round" stroke-linejoin="round" opacity="1"/><path d="M232 682 L580 692 L620 770 L262 760Z" fill="#1f2124" stroke="#1f2124" stroke-width="10" stroke-linejoin="round" opacity="1"/><path d="M582 652 L760 652 L790 740 L640 730Z" fill="#2a2c30" stroke="#2a2c30" stroke-width="10" stroke-linejoin="round" opacity="1"/><path d="M1090 690 L1430 600" fill="none" stroke="#2f3135" stroke-width="12" stroke-linecap="round" stroke-linejoin="round" opacity="1"/><path d="M250 770 L420 790 L400 830 L300 820Z" fill="#1d1e20" stroke="#1d1e20" stroke-width="10" stroke-linejoin="round" opacity="1"/><ellipse cx="943" cy="707" rx="134.4" ry="198" fill="#2e3034"/><ellipse cx="955" cy="725" rx="120" ry="180" fill="#27282b"/><ellipse cx="962.2" cy="725" rx="81.6" ry="122.4" fill="#56595d"/><path d="M962.2 725 L1034.71 754.145" stroke="#2f3033" stroke-width="19.2" stroke-linecap="round"/><path d="M962.2 725 L966.129 837.454" stroke="#2f3033" stroke-width="19.2" stroke-linecap="round"/><path d="M962.2 725 L892.114 765.355" stroke="#2f3033" stroke-width="19.2" stroke-linecap="round"/><path d="M962.2 725 L914.956 637.487" stroke="#2f3033" stroke-width="19.2" stroke-linecap="round"/><path d="M962.2 725 L1003.09 630.559" stroke="#2f3033" stroke-width="19.2" stroke-linecap="round"/><ellipse cx="962.2" cy="725" rx="24" ry="36" fill="#2f3033"/><ellipse cx="1492.4" cy="586.5" rx="85.12" ry="148.5" fill="#2e3034"/><ellipse cx="1500" cy="600" rx="76" ry="135" fill="#27282b"/><ellipse cx="1504.56" cy="600" rx="51.68" ry="91.8" fill="#56595d"/><path d="M1504.56 600 L1550.49 621.859" stroke="#2f3033" stroke-width="12.16" stroke-linecap="round"/><path d="M1504.56 600 L1507.05 684.34" stroke="#2f3033" stroke-width="12.16" stroke-linecap="round"/><path d="M1504.56 600 L1460.17 630.266" stroke="#2f3033" stroke-width="12.16" stroke-linecap="round"/><path d="M1504.56 600 L1474.64 534.365" stroke="#2f3033" stroke-width="12.16" stroke-linecap="round"/><path d="M1504.56 600 L1530.46 529.169" stroke="#2f3033" stroke-width="12.16" stroke-linecap="round"/><ellipse cx="1504.56" cy="600" rx="15.2" ry="27" fill="#2f3033"/><path d="M190 610 L235 605" fill="none" stroke="#303236" stroke-width="16" stroke-linecap="round" stroke-linejoin="round" opacity="1"/></g></svg>
<div class="b" style="left:1495.50px;top:722.20px;width:377.60px;height:82.60px;background:#ffffff;border-radius:11px;border:1px solid #e4e7ea;box-sizing:border-box;"></div>
<span class="t" style="left:1640.60px;top:743.64px;font-size:15.66px;line-height:15.66px;letter-spacing:1.375px;color:#666b73;">Hatchback</span>
<span class="t" style="left:1825.30px;top:744.43px;font-size:14.73px;line-height:14.73px;letter-spacing:0.763px;color:#2a2a2a;-webkit-text-stroke:0.32px #2a2a2a;">20%</span>
<div class="b" style="left:1639.40px;top:769.20px;width:217.40px;height:15.30px;background:#ebf3fa;border-radius:2.5px;"></div>
<div class="b" style="left:1639.40px;top:769.20px;width:47.48px;height:15.30px;background:#1e2f47;border-radius:2.500px 0 0 2.500px;"></div>
<svg class="b" style="left:1505px;top:725.00px" width="135" height="80" viewBox="0 0 1846 1094" fill="none"><defs><filter id="cb" x="-5%" y="-5%" width="110%" height="110%"><feGaussianBlur stdDeviation="5"/></filter><filter id="cs" x="-20%" y="-100%" width="140%" height="300%"><feGaussianBlur stdDeviation="22"/></filter><linearGradient id="bg2" x1="0.2" y1="0" x2="0.6" y2="1"><stop offset="0" stop-color="#f1f2f3"/><stop offset="1" stop-color="#c9ccd1"/></linearGradient><linearGradient id="wg2" x1="0" y1="0" x2="1" y2="0.25"><stop offset="0" stop-color="#c9cdd3"/><stop offset="1" stop-color="#3a3e46"/></linearGradient></defs><path d="M240 790L860 870 1120 810 1520 720 1600 650 1400 660 900 770Z" fill="#b2b2b2" filter="url(#cs)"/><g filter="url(#cb)"><path d="M200 730 L175 620 L195 505 L232 470 L250 440 L520 345 L800 200 L1000 170 L1180 180 L1420 240 L1560 340 L1600 400 L1592 530 L1420 645 L1100 705 L880 792 L600 772 L280 760Z" fill="url(#bg2)" stroke="url(#bg2)" stroke-width="10" stroke-linejoin="round" opacity="1"/><path d="M250 442 L520 348 L1080 340 L900 460 L620 500 L240 480Z" fill="#f7f7f8" stroke="#f7f7f8" stroke-width="10" stroke-linejoin="round" opacity="0.95"/><path d="M820 200 L1000 170 L1180 180 L1420 240 L1440 262 L1200 204Z" fill="#2a2c30" stroke="#2a2c30" stroke-width="10" stroke-linejoin="round" opacity="1"/><path d="M530 335 L820 206 L1150 202 L1080 335Z" fill="#2a2d33" stroke="#2a2d33" stroke-width="10" stroke-linejoin="round" opacity="1"/><path d="M570 330 L825 214 L900 214 L760 335Z" fill="#c5c9ce" stroke="#c5c9ce" stroke-width="4" stroke-linejoin="round" opacity="0.95"/><path d="M1140 302 L1200 204 L1400 242 L1450 312 L1250 340Z" fill="#2b2d32" stroke="#2b2d32" stroke-width="10" stroke-linejoin="round" opacity="1"/><path d="M1255 218 L1262 335" fill="none" stroke="#5d6066" stroke-width="10" stroke-linecap="round" stroke-linejoin="round" opacity="1"/><path d="M1130 322 L1162 296 L1250 306 L1240 346 L1142 350Z" fill="#1f2124" stroke="#1f2124" stroke-width="4" stroke-linejoin="round" opacity="1"/><path d="M282 502 L620 512 L900 470 L880 540 L640 552 L282 532Z" fill="#2e3034" stroke="#2e3034" stroke-width="10" stroke-linejoin="round" opacity="1"/><path d="M262 642 L820 642 L832 722 L622 702 L602 760 L282 750Z" fill="#2a2c30" stroke="#2a2c30" stroke-width="10" stroke-linejoin="round" opacity="1"/><path d="M300 660 L590 662 L590 740 L300 735Z" fill="#5a5d62" stroke="#5a5d62" stroke-width="3" stroke-linejoin="round" opacity="0.9"/><path d="M1440 240 L1460 300 L1440 320" fill="none" stroke="#25272a" stroke-width="14" stroke-linecap="round" stroke-linejoin="round" opacity="1"/><path d="M1120 700 L1440 640 L1470 600" fill="none" stroke="#3a3c40" stroke-width="12" stroke-linecap="round" stroke-linejoin="round" opacity="1"/><path d="M900 500 L960 470 L1060 500 L1110 600" fill="none" stroke="#2c2e31" stroke-width="22" stroke-linecap="round" stroke-linejoin="round" opacity="1"/><ellipse cx="985" cy="680" rx="112" ry="172" fill="#26272a"/><ellipse cx="991.72" cy="680" rx="76.16" ry="116.96" fill="#595c60"/><path d="M991.72 680 L1059.4 707.85" stroke="#303134" stroke-width="17.92" stroke-linecap="round"/><path d="M991.72 680 L995.387 787.456" stroke="#303134" stroke-width="17.92" stroke-linecap="round"/><path d="M991.72 680 L926.307 718.562" stroke="#303134" stroke-width="17.92" stroke-linecap="round"/><path d="M991.72 680 L947.625 596.377" stroke="#303134" stroke-width="17.92" stroke-linecap="round"/><path d="M991.72 680 L1029.88 589.756" stroke="#303134" stroke-width="17.92" stroke-linecap="round"/><ellipse cx="991.72" cy="680" rx="22.4" ry="34.4" fill="#303134"/><path d="M1450 560 L1500 490 L1570 470" fill="none" stroke="#2c2e31" stroke-width="18" stroke-linecap="round" stroke-linejoin="round" opacity="1"/><ellipse cx="1530" cy="615" rx="70" ry="128" fill="#26272a"/><ellipse cx="1534.2" cy="615" rx="47.6" ry="87.04" fill="#595c60"/><path d="M1534.2 615 L1576.5 635.725" stroke="#303134" stroke-width="11.2" stroke-linecap="round"/><path d="M1534.2 615 L1536.49 694.967" stroke="#303134" stroke-width="11.2" stroke-linecap="round"/><path d="M1534.2 615 L1493.32 643.697" stroke="#303134" stroke-width="11.2" stroke-linecap="round"/><path d="M1534.2 615 L1506.64 552.769" stroke="#303134" stroke-width="11.2" stroke-linecap="round"/><path d="M1534.2 615 L1558.05 547.842" stroke="#303134" stroke-width="11.2" stroke-linecap="round"/><ellipse cx="1534.2" cy="615" rx="14" ry="25.6" fill="#303134"/><path d="M270 770 L440 775 L420 810 L300 800Z" fill="#202124" stroke="#202124" stroke-width="10" stroke-linejoin="round" opacity="1"/></g></svg>
<div class="b" style="left:1495.50px;top:827.20px;width:377.60px;height:82.60px;background:#ffffff;border-radius:11px;border:1px solid #e4e7ea;box-sizing:border-box;"></div>
<span class="t" style="left:1640.60px;top:848.64px;font-size:15.66px;line-height:15.66px;letter-spacing:1.077px;color:#666b73;">Convertible</span>
<span class="t" style="left:1827.43px;top:849.43px;font-size:14.73px;line-height:14.73px;letter-spacing:-0.300px;color:#2a2a2a;-webkit-text-stroke:0.32px #2a2a2a;">10%</span>
<div class="b" style="left:1639.40px;top:874.20px;width:217.40px;height:15.30px;background:#ebf3fa;border-radius:2.5px;"></div>
<div class="b" style="left:1639.40px;top:874.20px;width:25.74px;height:15.30px;background:#1e2f47;border-radius:2.500px 0 0 2.500px;"></div>
<svg class="b" style="left:1505px;top:830.00px" width="135" height="80" viewBox="0 0 1846 1094" fill="none"><defs><filter id="cb" x="-5%" y="-5%" width="110%" height="110%"><feGaussianBlur stdDeviation="5"/></filter><filter id="cs" x="-20%" y="-100%" width="140%" height="300%"><feGaussianBlur stdDeviation="22"/></filter><linearGradient id="bg3" x1="0.2" y1="0" x2="0.6" y2="1"><stop offset="0" stop-color="#f1f2f3"/><stop offset="1" stop-color="#c9ccd1"/></linearGradient><linearGradient id="wg3" x1="0" y1="0" x2="1" y2="0.25"><stop offset="0" stop-color="#c9cdd3"/><stop offset="1" stop-color="#3a3e46"/></linearGradient></defs><path d="M220 800L900 870 1200 820 1560 710 1640 640 1440 670 950 790Z" fill="#b2b2b2" filter="url(#cs)"/><g filter="url(#cb)"><path d="M170 740 L165 560 L200 470 L340 392 L600 352 L800 226 L1250 232 L1400 270 L1480 320 L1610 382 L1642 470 L1632 610 L1460 665 L1180 725 L940 802 L700 792 L220 780Z" fill="url(#bg3)" stroke="url(#bg3)" stroke-width="10" stroke-linejoin="round" opacity="1"/><path d="M205 470 L340 395 L600 356 L1180 352 L1000 440 L700 545 L300 545 L195 585Z" fill="#f5f5f6" stroke="#f5f5f6" stroke-width="10" stroke-linejoin="round" opacity="0.95"/><path d="M650 345 L810 236 L1230 242 L1180 350Z" fill="#6f7277" stroke="#6f7277" stroke-width="10" stroke-linejoin="round" opacity="1"/><path d="M800 228 L1250 232 L1400 270 L1260 250 L820 244Z" fill="#3b3d41" stroke="#3b3d41" stroke-width="10" stroke-linejoin="round" opacity="1"/><path d="M690 340 L820 246 L900 246 L860 340Z" fill="#e2e4e6" stroke="#e2e4e6" stroke-width="4" stroke-linejoin="round" opacity="0.95"/><path d="M1040 250 L1200 252 L1160 335 L1100 300Z" fill="#dfe1e4" stroke="#dfe1e4" stroke-width="4" stroke-linejoin="round" opacity="0.9"/><path d="M860 340 L930 246" fill="none" stroke="#6f7277" stroke-width="10" stroke-linecap="round" stroke-linejoin="round" opacity="1"/><path d="M1232 335 L1262 246 L1400 282 L1460 322 L1300 346Z" fill="#c9ccd0" stroke="#c9ccd0" stroke-width="10" stroke-linejoin="round" opacity="1"/><path d="M1395 262 L1480 322 L1440 334 L1400 290Z" fill="#17181a" stroke="#17181a" stroke-width="4" stroke-linejoin="round" opacity="1"/><path d="M530 322 L590 305 L600 340 L548 346Z" fill="#d4d6d9" stroke="#d4d6d9" stroke-width="4" stroke-linejoin="round" opacity="1"/><path d="M190 592 L300 546 L520 562 L720 642 L650 657 L222 642Z" fill="#27282a" stroke="#27282a" stroke-width="10" stroke-linejoin="round" opacity="1"/><path d="M190 692 L880 742 L900 792 L242 782Z" fill="#1d1e20" stroke="#1d1e20" stroke-width="10" stroke-linejoin="round" opacity="1"/><path d="M702 546 L990 442 L980 470 L850 540 L722 560Z" fill="#2a2c2f" stroke="#2a2c2f" stroke-width="10" stroke-linejoin="round" opacity="1"/><path d="M1130 472 L1212 460" fill="none" stroke="#3a3c40" stroke-width="12" stroke-linecap="round" stroke-linejoin="round" opacity="1"/><path d="M1190 720 L1460 660" fill="none" stroke="#505357" stroke-width="10" stroke-linecap="round" stroke-linejoin="round" opacity="1"/><ellipse cx="1075" cy="690" rx="110" ry="180" fill="#232426"/><ellipse cx="1081.6" cy="690" rx="74.8" ry="122.4" fill="#4a4c50"/><path d="M1081.6 690 L1148.07 719.145" stroke="#2a2b2d" stroke-width="17.6" stroke-linecap="round"/><path d="M1081.6 690 L1085.2 802.454" stroke="#2a2b2d" stroke-width="17.6" stroke-linecap="round"/><path d="M1081.6 690 L1017.35 730.355" stroke="#2a2b2d" stroke-width="17.6" stroke-linecap="round"/><path d="M1081.6 690 L1038.29 602.487" stroke="#2a2b2d" stroke-width="17.6" stroke-linecap="round"/><path d="M1081.6 690 L1119.08 595.559" stroke="#2a2b2d" stroke-width="17.6" stroke-linecap="round"/><ellipse cx="1081.6" cy="690" rx="22" ry="36" fill="#2a2b2d"/><ellipse cx="1582" cy="582" rx="60" ry="125" fill="#232426"/><ellipse cx="1585.6" cy="582" rx="40.8" ry="85" fill="#4a4c50"/><path d="M1585.6 582 L1621.86 602.24" stroke="#2a2b2d" stroke-width="9.6" stroke-linecap="round"/><path d="M1585.6 582 L1587.56 660.093" stroke="#2a2b2d" stroke-width="9.6" stroke-linecap="round"/><path d="M1585.6 582 L1550.56 610.024" stroke="#2a2b2d" stroke-width="9.6" stroke-linecap="round"/><path d="M1585.6 582 L1561.98 521.227" stroke="#2a2b2d" stroke-width="9.6" stroke-linecap="round"/><path d="M1585.6 582 L1606.04 516.416" stroke="#2a2b2d" stroke-width="9.6" stroke-linecap="round"/><ellipse cx="1585.6" cy="582" rx="12" ry="25" fill="#2a2b2d"/><path d="M215 785 L380 790 L360 812 L250 806Z" fill="#1d1e20" stroke="#1d1e20" stroke-width="10" stroke-linejoin="round" opacity="1"/></g></svg>
<div class="b" style="left:1495.50px;top:932.20px;width:377.60px;height:82.60px;background:#ffffff;border-radius:11px;border:1px solid #e4e7ea;box-sizing:border-box;"></div>
<span class="t" style="left:1640.60px;top:953.64px;font-size:15.66px;line-height:15.66px;letter-spacing:0.506px;color:#666b73;">Truck</span>
<span class="t" style="left:1827.43px;top:954.43px;font-size:14.73px;line-height:14.73px;letter-spacing:-0.300px;color:#2a2a2a;-webkit-text-stroke:0.32px #2a2a2a;">10%</span>
<div class="b" style="left:1639.40px;top:979.20px;width:217.40px;height:15.30px;background:#ebf3fa;border-radius:2.5px;"></div>
<div class="b" style="left:1639.40px;top:979.20px;width:25.74px;height:15.30px;background:#1e2f47;border-radius:2.500px 0 0 2.500px;"></div>
<svg class="b" style="left:1505px;top:935.00px" width="135" height="80" viewBox="0 0 1846 1094" fill="none"><defs><filter id="cb" x="-5%" y="-5%" width="110%" height="110%"><feGaussianBlur stdDeviation="5"/></filter><filter id="cs" x="-20%" y="-100%" width="140%" height="300%"><feGaussianBlur stdDeviation="22"/></filter><linearGradient id="bg4" x1="0.2" y1="0" x2="0.6" y2="1"><stop offset="0" stop-color="#f1f2f3"/><stop offset="1" stop-color="#c9ccd1"/></linearGradient><linearGradient id="wg4" x1="0" y1="0" x2="1" y2="0.25"><stop offset="0" stop-color="#c9cdd3"/><stop offset="1" stop-color="#3a3e46"/></linearGradient></defs><path d="M230 830L760 900 1100 830 1480 770 1600 660 1380 680 950 780Z" fill="#b0b0b0" filter="url(#cs)"/><g filter="url(#cb)"><path d="M215 790 L230 720 L460 730 L450 800 L340 840 L250 830Z" fill="#1f2022" stroke="#1f2022" stroke-width="10" stroke-linejoin="round" opacity="1"/><path d="M190 700 L180 580 L215 450 L262 390 L490 322 L640 180 L1000 140 L1310 146 L1342 182 L1390 310 L1560 312 L1592 362 L1602 520 L1560 605 L1360 652 L1010 712 L760 762 L640 752 L220 722Z" fill="url(#bg4)" stroke="url(#bg4)" stroke-width="10" stroke-linejoin="round" opacity="1"/><path d="M262 392 L490 325 L960 325 L780 420 L250 430Z" fill="#f6f6f7" stroke="#f6f6f7" stroke-width="10" stroke-linejoin="round" opacity="0.95"/><path d="M510 315 L652 192 L1030 188 L960 320Z" fill="#34373d" stroke="#34373d" stroke-width="10" stroke-linejoin="round" opacity="1"/><path d="M545 312 L660 202 L720 202 L700 314Z" fill="#d5d8dc" stroke="#d5d8dc" stroke-width="4" stroke-linejoin="round" opacity="0.95"/><path d="M1042 310 L1092 192 L1180 192 L1190 320Z" fill="#4a4d53" stroke="#4a4d53" stroke-width="10" stroke-linejoin="round" opacity="1"/><path d="M1202 192 L1310 192 L1330 310 L1202 320Z" fill="#3c3f45" stroke="#3c3f45" stroke-width="10" stroke-linejoin="round" opacity="1"/><path d="M1060 300 L1100 270 L1170 280 L1160 330 L1040 345Z" fill="#f1f2f3" stroke="#f1f2f3" stroke-width="4" stroke-linejoin="round" opacity="1"/><path d="M1035 350 L1160 335" fill="none" stroke="#2b2d31" stroke-width="10" stroke-linecap="round" stroke-linejoin="round" opacity="1"/><path d="M1392 302 L1560 312" fill="none" stroke="#2c2e32" stroke-width="20" stroke-linecap="round" stroke-linejoin="round" opacity="1"/><path d="M252 442 L740 437 L720 520 L262 520Z" fill="#54575c" stroke="#54575c" stroke-width="10" stroke-linejoin="round" opacity="1"/><path d="M270 470 L720 466" fill="none" stroke="#b5b8bc" stroke-width="8" stroke-linecap="round" stroke-linejoin="round" opacity="1"/><path d="M275 500 L715 497" fill="none" stroke="#b5b8bc" stroke-width="6" stroke-linecap="round" stroke-linejoin="round" opacity="1"/><path d="M202 602 L720 602 L722 690 L642 740 L232 700Z" fill="#4a4c50" stroke="#4a4c50" stroke-width="10" stroke-linejoin="round" opacity="1"/><path d="M215 640 L560 650 L640 735" fill="none" stroke="#d8d9db" stroke-width="14" stroke-linecap="round" stroke-linejoin="round" opacity="1"/><path d="M300 650 L300 700" fill="none" stroke="#d8d9db" stroke-width="12" stroke-linecap="round" stroke-linejoin="round" opacity="1"/><path d="M500 655 L500 715" fill="none" stroke="#d8d9db" stroke-width="12" stroke-linecap="round" stroke-linejoin="round" opacity="1"/><path d="M770 600 L790 490 L880 440 L990 470 L1020 620" fill="none" stroke="#e9eaeb" stroke-width="26" stroke-linecap="round" stroke-linejoin="round" opacity="1"/><path d="M775 560 L800 478 L885 440 L985 472" fill="none" stroke="#6a6d72" stroke-width="6" stroke-linecap="round" stroke-linejoin="round" opacity="1"/><ellipse cx="885" cy="690" rx="120" ry="170" fill="#2a2b2e"/><ellipse cx="880" cy="742" rx="122" ry="165" fill="#1e1f21"/><ellipse cx="887.32" cy="742" rx="73.2" ry="99" fill="#34363a"/><path d="M887.32 742 L952.369 765.573" stroke="#1a1b1c" stroke-width="19.52" stroke-linecap="round"/><path d="M887.32 742 L890.845 832.955" stroke="#1a1b1c" stroke-width="19.52" stroke-linecap="round"/><path d="M887.32 742 L824.449 774.64" stroke="#1a1b1c" stroke-width="19.52" stroke-linecap="round"/><path d="M887.32 742 L844.939 671.218" stroke="#1a1b1c" stroke-width="19.52" stroke-linecap="round"/><path d="M887.32 742 L923.998 665.614" stroke="#1a1b1c" stroke-width="19.52" stroke-linecap="round"/><ellipse cx="887.32" cy="742" rx="24.4" ry="33" fill="#1a1b1c"/><path d="M1375 540 L1400 430 L1480 400 L1545 450" fill="none" stroke="#e9eaeb" stroke-width="22" stroke-linecap="round" stroke-linejoin="round" opacity="1"/><path d="M1385 500 L1410 430 L1480 405 L1540 440" fill="none" stroke="#6a6d72" stroke-width="6" stroke-linecap="round" stroke-linejoin="round" opacity="1"/><ellipse cx="1458" cy="610" rx="82" ry="125" fill="#2a2b2e"/><ellipse cx="1452" cy="652" rx="84" ry="128" fill="#1e1f21"/><ellipse cx="1457.04" cy="652" rx="50.4" ry="76.8" fill="#34363a"/><path d="M1457.04 652 L1501.83 670.287" stroke="#1a1b1c" stroke-width="13.44" stroke-linecap="round"/><path d="M1457.04 652 L1459.47 722.559" stroke="#1a1b1c" stroke-width="13.44" stroke-linecap="round"/><path d="M1457.04 652 L1413.75 677.321" stroke="#1a1b1c" stroke-width="13.44" stroke-linecap="round"/><path d="M1457.04 652 L1427.86 597.09" stroke="#1a1b1c" stroke-width="13.44" stroke-linecap="round"/><path d="M1457.04 652 L1482.29 592.743" stroke="#1a1b1c" stroke-width="13.44" stroke-linecap="round"/><ellipse cx="1457.04" cy="652" rx="16.8" ry="25.6" fill="#1a1b1c"/><path d="M1020 715 L1350 655" fill="none" stroke="#3c3e42" stroke-width="12" stroke-linecap="round" stroke-linejoin="round" opacity="1"/></g></svg>
<div class="b" style="left:1495.50px;top:1037.20px;width:377.60px;height:82.60px;background:#ffffff;border-radius:11px;border:1px solid #e4e7ea;box-sizing:border-box;"></div>
<span class="t" style="left:1640.60px;top:1058.64px;font-size:15.66px;line-height:15.66px;letter-spacing:1.004px;color:#666b73;">Minivan</span>
<span class="t" style="left:1835.30px;top:1059.43px;font-size:14.73px;line-height:14.73px;letter-spacing:-0.284px;color:#2a2a2a;-webkit-text-stroke:0.32px #2a2a2a;">5%</span>
<div class="b" style="left:1639.40px;top:1084.20px;width:217.40px;height:15.30px;background:#ebf3fa;border-radius:2.5px;"></div>
<div class="b" style="left:1639.40px;top:1084.20px;width:14.87px;height:15.30px;background:#1e2f47;border-radius:2.500px 0 0 2.500px;"></div>
<svg class="b" style="left:1505px;top:1035px" width="135" height="50" viewBox="0 0 1920 711" fill="none"><defs><filter id="cb" x="-5%" y="-5%" width="110%" height="110%"><feGaussianBlur stdDeviation="5"/></filter><filter id="cs" x="-20%" y="-100%" width="140%" height="300%"><feGaussianBlur stdDeviation="22"/></filter><linearGradient id="bg5" x1="0.2" y1="0" x2="0.6" y2="1"><stop offset="0" stop-color="#f6f6f7"/><stop offset="1" stop-color="#d4d6da"/></linearGradient></defs><g filter="url(#cb)"><path d="M330 720 L350 600 L385 520 L540 440 L525 420 L762 240 L1180 210 L1500 250 L1540 400 L1548 720Z" fill="url(#bg5)" stroke="url(#bg5)" stroke-width="10" stroke-linejoin="round" opacity="1"/><path d="M540 432 L765 252 L1150 250 L1040 440Z" fill="#3a3d43" stroke="#3a3d43" stroke-width="10" stroke-linejoin="round" opacity="1"/><path d="M600 425 L780 262 L1100 262 L985 430Z" fill="#c9ccd1" stroke="#c9ccd1" stroke-width="4" stroke-linejoin="round" opacity="0.95"/><path d="M760 250 L1160 238" fill="none" stroke="#2a2c30" stroke-width="14" stroke-linecap="round" stroke-linejoin="round" opacity="1"/><path d="M1092 462 L1222 252 L1300 252 L1302 402Z" fill="#2d2f34" stroke="#2d2f34" stroke-width="10" stroke-linejoin="round" opacity="1"/><path d="M1332 252 L1490 262 L1530 380 L1362 402Z" fill="#26282c" stroke="#26282c" stroke-width="10" stroke-linejoin="round" opacity="1"/><path d="M1180 372 L1270 362 L1275 410 L1185 420Z" fill="#ecedee" stroke="#ecedee" stroke-width="4" stroke-linejoin="round" opacity="1"/><path d="M380 540 L560 585 L900 580" fill="none" stroke="#b9bcc0" stroke-width="12" stroke-linecap="round" stroke-linejoin="round" opacity="1"/><path d="M720 590 L900 570 L900 640 L740 640Z" fill="#cfd1d4" stroke="#cfd1d4" stroke-width="4" stroke-linejoin="round" opacity="1"/></g></svg>
</div>
<svg class="b" style="left:0;top:0" width="1920" height="1094">
<defs>
<filter id="nz" x="0" y="0" width="100%" height="100%" color-interpolation-filters="sRGB">
<feTurbulence type="fractalNoise" baseFrequency="1.1" numOctaves="1" seed="7" result="n"/>
<feColorMatrix in="n" type="matrix" values="0 0 0 0 1  0 0 0 0 1  0 0 0 0 1  14 0 0 0 -7.1" result="w"/>
<feComposite in="w" in2="SourceGraphic" operator="in"/>
</filter>
<linearGradient id="gt" x1="0" y1="0" x2="0" y2="1"><stop offset="0" stop-color="#fff" stop-opacity="1"/><stop offset=".12" stop-color="#fff" stop-opacity=".75"/><stop offset=".3" stop-color="#fff" stop-opacity=".4"/><stop offset=".55" stop-color="#fff" stop-opacity=".18"/><stop offset=".8" stop-color="#fff" stop-opacity="0"/></linearGradient>
<linearGradient id="gb" x1="0" y1="1" x2="0" y2="0"><stop offset="0" stop-color="#fff" stop-opacity="1"/><stop offset=".12" stop-color="#fff" stop-opacity=".75"/><stop offset=".3" stop-color="#fff" stop-opacity=".4"/><stop offset=".55" stop-color="#fff" stop-opacity=".18"/><stop offset=".8" stop-color="#fff" stop-opacity="0"/></linearGradient>
<linearGradient id="gl" x1="0" y1="0" x2="1" y2="0"><stop offset="0" stop-color="#fff" stop-opacity="1"/><stop offset=".12" stop-color="#fff" stop-opacity=".75"/><stop offset=".3" stop-color="#fff" stop-opacity=".4"/><stop offset=".55" stop-color="#fff" stop-opacity=".18"/><stop offset=".8" stop-color="#fff" stop-opacity="0"/></linearGradient>
<linearGradient id="gr" x1="1" y1="0" x2="0" y2="0"><stop offset="0" stop-color="#fff" stop-opacity="1"/><stop offset=".12" stop-color="#fff" stop-opacity=".75"/><stop offset=".3" stop-color="#fff" stop-opacity=".4"/><stop offset=".55" stop-color="#fff" stop-opacity=".18"/><stop offset=".8" stop-color="#fff" stop-opacity="0"/></linearGradient>
</defs>
<g filter="url(#nz)">
<rect x="0" y="0" width="1920" height="10" fill="url(#gt)"/>
<rect x="0" y="1084" width="1920" height="10" fill="url(#gb)"/>
<rect x="0" y="0" width="10" height="1094" fill="url(#gl)"/>
<rect x="1910" y="0" width="10" height="1094" fill="url(#gr)"/>
</g>
</svg>
<div class="b" style="left:0;top:0;width:8px;height:8px;background:#ededed;border-radius:0 0 3px 0"></div>
<div class="b" style="left:1912px;top:0;width:8px;height:8px;background:#ededed;border-radius:0 0 0 3px"></div>
<div class="b" style="left:0;top:1086px;width:8px;height:8px;background:#ededed;border-radius:0 3px 0 0"></div>
<div class="b" style="left:1912px;top:1086px;width:8px;height:8px;background:#ededed;border-radius:3px 0 0 0"></div>
</div>
</body></html>
